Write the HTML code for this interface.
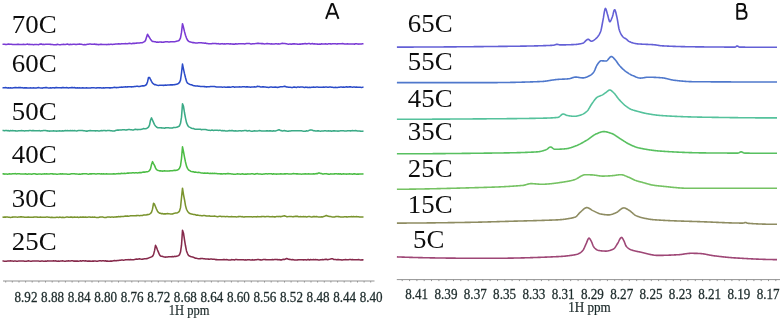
<!DOCTYPE html><html><head><meta charset="utf-8"><style>html,body{margin:0;padding:0;background:#fff;}svg{display:block;}</style></head><body>
<svg width="784" height="322" viewBox="0 0 784 322">
<defs><filter id="bl" x="-5%" y="-5%" width="110%" height="110%"><feGaussianBlur stdDeviation="0.45"/></filter><filter id="tb" x="-5%" y="-5%" width="110%" height="110%"><feGaussianBlur stdDeviation="0.3"/></filter></defs>
<rect width="784" height="322" fill="#fff"/>
<g filter="url(#tb)">
<text transform="translate(11.8 32.7) scale(1.025 1)" font-family="Liberation Serif, serif" font-size="26.2" fill="#111">70C</text>
<text transform="translate(11.8 72.2) scale(1.025 1)" font-family="Liberation Serif, serif" font-size="26.2" fill="#111">60C</text>
<text transform="translate(11.8 120.3) scale(1.025 1)" font-family="Liberation Serif, serif" font-size="26.2" fill="#111">50C</text>
<text transform="translate(11.8 162.6) scale(1.025 1)" font-family="Liberation Serif, serif" font-size="26.2" fill="#111">40C</text>
<text transform="translate(11.8 206.5) scale(1.025 1)" font-family="Liberation Serif, serif" font-size="26.2" fill="#111">30C</text>
<text transform="translate(11.8 250.0) scale(1.025 1)" font-family="Liberation Serif, serif" font-size="26.2" fill="#111">25C</text>
<text transform="translate(407.8 32.2) scale(1.025 1)" font-family="Liberation Serif, serif" font-size="26.2" fill="#111">65C</text>
<text transform="translate(407.8 69.8) scale(1.025 1)" font-family="Liberation Serif, serif" font-size="26.2" fill="#111">55C</text>
<text transform="translate(407.8 106.8) scale(1.025 1)" font-family="Liberation Serif, serif" font-size="26.2" fill="#111">45C</text>
<text transform="translate(407.8 140.4) scale(1.025 1)" font-family="Liberation Serif, serif" font-size="26.2" fill="#111">35C</text>
<text transform="translate(407.8 177.2) scale(1.025 1)" font-family="Liberation Serif, serif" font-size="26.2" fill="#111">25C</text>
<text transform="translate(407.8 213.2) scale(1.025 1)" font-family="Liberation Serif, serif" font-size="26.2" fill="#111">15C</text>
<text transform="translate(413.0 247.7) scale(1.025 1)" font-family="Liberation Serif, serif" font-size="26.2" fill="#111">5C</text>
<path d="M326.0 18.9 L331.7 3.9 L332.9 3.9 L338.5 18.9 M328.6 13.7 H336.1" fill="none" stroke="#111" stroke-width="1.95" stroke-linejoin="round"/>
<path d="M737.25 3.95 V18.75 H742.6 C745.3 18.75 746.6 17.1 746.6 14.75 C746.6 12.4 745.0 10.8 742.4 10.8 H737.25 M737.25 3.95 H741.8 C744.0 3.95 745.1 5.4 745.1 7.35 C745.1 9.3 743.9 10.8 741.8 10.8" fill="none" stroke="#111" stroke-width="1.95" stroke-linejoin="round"/>
</g>
<g filter="url(#bl)">
<path d="M2.5 44.22 L3.5 44.30 L4.5 44.26 L5.5 44.36 L6.5 44.42 L7.5 44.16 L8.5 44.01 L9.5 44.35 L10.5 44.23 L11.5 44.16 L12.5 44.50 L13.5 44.41 L14.5 44.55 L15.5 44.44 L16.5 44.46 L17.5 44.23 L18.5 44.36 L19.5 44.54 L20.5 44.45 L21.5 44.52 L22.5 44.52 L23.5 44.22 L24.5 44.41 L25.5 44.42 L26.5 44.29 L27.5 44.08 L28.5 44.40 L29.5 44.36 L30.5 44.46 L31.5 44.59 L32.5 44.58 L33.5 44.67 L34.5 44.46 L35.5 44.55 L36.5 44.42 L37.5 44.60 L38.5 44.66 L39.5 44.30 L40.5 44.14 L41.5 44.10 L42.5 44.46 L43.5 44.37 L44.5 44.42 L45.5 44.29 L46.5 44.32 L47.5 44.28 L48.5 44.24 L49.5 44.33 L50.5 44.38 L51.5 44.57 L52.5 44.55 L53.5 44.66 L54.5 44.68 L55.5 44.76 L56.5 44.64 L57.5 44.32 L58.5 44.52 L59.5 44.66 L60.5 44.71 L61.5 44.56 L62.5 44.56 L63.5 44.31 L64.5 44.49 L65.5 44.46 L66.5 44.29 L67.5 44.10 L68.5 44.40 L69.5 44.62 L70.5 44.28 L71.5 44.46 L72.5 44.36 L73.5 44.18 L74.5 44.16 L75.5 44.39 L76.5 44.55 L77.5 44.22 L78.5 44.34 L79.5 44.11 L80.5 44.34 L81.5 44.26 L82.5 44.49 L83.5 44.66 L84.5 44.50 L85.5 44.67 L86.5 44.41 L87.5 44.17 L88.5 44.30 L89.5 44.09 L90.5 44.06 L91.5 44.16 L92.5 44.30 L93.5 44.15 L94.5 44.02 L95.5 44.36 L96.5 44.26 L97.5 44.53 L98.5 44.63 L99.5 44.42 L100.5 44.36 L101.5 44.36 L102.5 44.42 L103.5 44.43 L104.5 44.41 L105.5 44.43 L106.5 44.61 L107.5 44.47 L108.5 44.37 L109.5 44.46 L110.5 44.27 L111.5 44.20 L112.5 44.48 L113.5 44.35 L114.5 44.28 L115.5 43.95 L116.5 43.96 L117.5 44.02 L118.5 43.75 L119.5 43.89 L120.5 43.94 L121.5 43.65 L122.5 43.76 L123.5 43.72 L124.5 43.77 L125.5 43.62 L126.5 43.71 L127.5 43.75 L128.5 43.40 L129.5 43.22 L130.5 43.42 L131.5 43.65 L132.5 43.38 L133.5 43.33 L134.5 43.36 L135.5 43.21 L136.5 43.13 L137.5 43.03 L138.5 42.98 L139.5 43.02 L140.5 42.83 L141.5 42.68 L142.5 42.67 L143.5 42.07 L144.5 41.63 L145.5 40.51 L146.5 37.16 L147.5 34.21 L148.5 36.06 L149.5 37.52 L150.5 39.22 L151.5 40.58 L152.5 41.40 L153.5 41.52 L154.5 41.72 L155.5 41.83 L156.5 42.15 L157.5 42.11 L158.5 42.30 L159.5 42.04 L160.5 41.99 L161.5 42.11 L162.5 42.27 L163.5 42.12 L164.5 41.92 L165.5 41.74 L166.5 41.85 L167.5 41.73 L168.5 41.96 L169.5 42.08 L170.5 41.79 L171.5 41.66 L172.5 41.84 L173.5 41.80 L174.5 41.81 L175.5 41.54 L176.5 41.23 L177.5 41.00 L178.5 40.85 L179.5 39.90 L180.5 37.92 L181.5 32.39 L182.5 23.68 L183.5 27.31 L184.5 31.66 L185.5 35.24 L186.5 38.11 L187.5 40.10 L188.5 41.14 L189.5 41.81 L190.5 41.95 L191.5 42.36 L192.5 42.62 L193.5 42.46 L194.5 42.69 L195.5 42.90 L196.5 42.95 L197.5 42.94 L198.5 42.84 L199.5 42.85 L200.5 42.83 L201.5 42.76 L202.5 43.02 L203.5 43.02 L204.5 43.30 L205.5 43.09 L206.5 43.43 L207.5 43.52 L208.5 43.69 L209.5 43.78 L210.5 43.83 L211.5 43.72 L212.5 43.39 L213.5 43.60 L214.5 43.44 L215.5 43.43 L216.5 43.62 L217.5 43.66 L218.5 43.64 L219.5 43.90 L220.5 43.88 L221.5 43.75 L222.5 43.65 L223.5 43.91 L224.5 43.85 L225.5 43.97 L226.5 43.82 L227.5 43.67 L228.5 43.77 L229.5 43.96 L230.5 43.74 L231.5 43.94 L232.5 44.11 L233.5 44.14 L234.5 44.16 L235.5 43.77 L236.5 43.89 L237.5 44.06 L238.5 43.74 L239.5 43.70 L240.5 43.67 L241.5 43.79 L242.5 43.79 L243.5 43.82 L244.5 43.99 L245.5 43.68 L246.5 43.55 L247.5 43.52 L248.5 43.51 L249.5 43.47 L250.5 43.90 L251.5 44.05 L252.5 43.73 L253.5 43.77 L254.5 43.67 L255.5 43.57 L256.5 43.44 L257.5 43.34 L258.5 43.39 L259.5 43.54 L260.5 43.55 L261.5 43.62 L262.5 43.55 L263.5 43.73 L264.5 43.91 L265.5 43.83 L266.5 43.64 L267.5 43.60 L268.5 43.67 L269.5 43.83 L270.5 43.99 L271.5 43.87 L272.5 44.02 L273.5 44.01 L274.5 43.90 L275.5 43.82 L276.5 43.83 L277.5 43.94 L278.5 43.83 L279.5 43.90 L280.5 43.76 L281.5 43.48 L282.5 43.31 L283.5 43.43 L284.5 43.42 L285.5 43.61 L286.5 43.70 L287.5 43.97 L288.5 44.14 L289.5 43.94 L290.5 44.11 L291.5 44.14 L292.5 43.89 L293.5 43.87 L294.5 43.69 L295.5 43.94 L296.5 44.00 L297.5 44.14 L298.5 44.16 L299.5 44.11 L300.5 44.12 L301.5 44.04 L302.5 43.76 L303.5 43.87 L304.5 43.63 L305.5 43.59 L306.5 43.88 L307.5 43.66 L308.5 43.57 L309.5 43.53 L310.5 43.90 L311.5 43.74 L312.5 43.58 L313.5 43.91 L314.5 43.71 L315.5 43.97 L316.5 44.02 L317.5 44.13 L318.5 44.24 L319.5 44.11 L320.5 44.15 L321.5 43.79 L322.5 43.98 L323.5 43.94 L324.5 44.03 L325.5 43.76 L326.5 43.95 L327.5 44.14 L328.5 43.80 L329.5 43.76 L330.5 43.86 L331.5 44.04 L332.5 43.84 L333.5 43.71 L334.5 43.68 L335.5 43.84 L336.5 44.00 L337.5 43.89 L338.5 43.83 L339.5 43.81 L340.5 43.78 L341.5 43.80 L342.5 43.64 L343.5 43.77 L344.5 44.07 L345.5 43.94 L346.5 44.04 L347.5 43.80 L348.5 43.94 L349.5 44.05 L350.5 44.06 L351.5 43.99 L352.5 43.93 L353.5 43.99 L354.5 44.14 L355.5 43.84 L356.5 43.67 L357.5 43.91 L358.5 44.11 L359.5 44.01 L360.5 43.93 L361.5 44.02 L362.5 43.80 L363.5 43.73" fill="none" stroke="#7a3ad4" stroke-width="1.55" stroke-linejoin="round"/>
<path d="M2.5 87.65 L3.5 87.77 L4.5 87.69 L5.5 87.61 L6.5 87.80 L7.5 88.03 L8.5 87.81 L9.5 87.91 L10.5 87.81 L11.5 87.98 L12.5 87.93 L13.5 87.75 L14.5 87.63 L15.5 87.48 L16.5 87.63 L17.5 87.65 L18.5 87.56 L19.5 87.61 L20.5 87.61 L21.5 87.84 L22.5 87.64 L23.5 87.97 L24.5 87.87 L25.5 87.88 L26.5 87.82 L27.5 87.98 L28.5 88.05 L29.5 87.95 L30.5 87.87 L31.5 87.94 L32.5 88.05 L33.5 87.87 L34.5 87.95 L35.5 88.10 L36.5 87.93 L37.5 87.73 L38.5 87.63 L39.5 87.82 L40.5 87.90 L41.5 88.08 L42.5 88.11 L43.5 87.83 L44.5 87.66 L45.5 87.61 L46.5 87.54 L47.5 87.77 L48.5 87.96 L49.5 88.08 L50.5 87.82 L51.5 87.99 L52.5 87.80 L53.5 87.76 L54.5 87.89 L55.5 87.64 L56.5 87.51 L57.5 87.82 L58.5 87.70 L59.5 87.68 L60.5 87.78 L61.5 87.87 L62.5 87.59 L63.5 87.61 L64.5 87.67 L65.5 87.73 L66.5 87.62 L67.5 87.75 L68.5 88.00 L69.5 87.84 L70.5 87.84 L71.5 87.63 L72.5 87.60 L73.5 87.78 L74.5 87.59 L75.5 87.89 L76.5 88.04 L77.5 87.72 L78.5 87.98 L79.5 87.82 L80.5 87.94 L81.5 88.00 L82.5 87.79 L83.5 87.88 L84.5 87.91 L85.5 88.01 L86.5 87.78 L87.5 87.91 L88.5 88.08 L89.5 88.02 L90.5 87.93 L91.5 87.67 L92.5 87.72 L93.5 87.68 L94.5 87.85 L95.5 87.91 L96.5 87.88 L97.5 87.68 L98.5 87.81 L99.5 87.86 L100.5 87.66 L101.5 87.92 L102.5 87.93 L103.5 87.67 L104.5 87.94 L105.5 87.69 L106.5 87.65 L107.5 87.83 L108.5 87.85 L109.5 87.85 L110.5 87.89 L111.5 87.81 L112.5 87.68 L113.5 87.49 L114.5 87.32 L115.5 87.53 L116.5 87.62 L117.5 87.54 L118.5 87.56 L119.5 87.35 L120.5 87.17 L121.5 87.11 L122.5 87.30 L123.5 86.95 L124.5 86.97 L125.5 86.84 L126.5 87.02 L127.5 86.88 L128.5 86.78 L129.5 86.74 L130.5 86.77 L131.5 86.88 L132.5 86.71 L133.5 86.84 L134.5 86.52 L135.5 86.42 L136.5 86.25 L137.5 86.15 L138.5 86.40 L139.5 86.46 L140.5 86.16 L141.5 85.95 L142.5 85.87 L143.5 85.87 L144.5 85.74 L145.5 85.32 L146.5 84.37 L147.5 81.95 L148.5 77.53 L149.5 77.44 L150.5 79.49 L151.5 81.36 L152.5 82.97 L153.5 83.90 L154.5 84.63 L155.5 84.64 L156.5 85.05 L157.5 85.30 L158.5 85.46 L159.5 85.26 L160.5 85.23 L161.5 85.22 L162.5 85.23 L163.5 85.39 L164.5 85.31 L165.5 85.05 L166.5 85.19 L167.5 85.06 L168.5 85.04 L169.5 85.08 L170.5 84.71 L171.5 84.88 L172.5 84.87 L173.5 84.73 L174.5 84.62 L175.5 84.47 L176.5 84.18 L177.5 84.02 L178.5 83.34 L179.5 82.45 L180.5 80.12 L181.5 73.01 L182.5 64.07 L183.5 69.07 L184.5 73.67 L185.5 77.77 L186.5 81.28 L187.5 83.03 L188.5 83.70 L189.5 84.30 L190.5 84.64 L191.5 84.82 L192.5 85.21 L193.5 85.67 L194.5 85.66 L195.5 85.98 L196.5 86.09 L197.5 85.90 L198.5 86.20 L199.5 86.26 L200.5 86.48 L201.5 86.52 L202.5 86.58 L203.5 86.43 L204.5 86.62 L205.5 86.81 L206.5 86.89 L207.5 86.74 L208.5 86.84 L209.5 86.77 L210.5 86.56 L211.5 86.44 L212.5 86.41 L213.5 86.47 L214.5 86.50 L215.5 86.70 L216.5 86.91 L217.5 86.95 L218.5 86.92 L219.5 87.04 L220.5 86.94 L221.5 86.98 L222.5 87.17 L223.5 87.08 L224.5 86.93 L225.5 87.21 L226.5 87.27 L227.5 87.13 L228.5 87.06 L229.5 87.11 L230.5 87.17 L231.5 87.02 L232.5 86.84 L233.5 86.85 L234.5 87.15 L235.5 86.98 L236.5 87.06 L237.5 86.96 L238.5 86.92 L239.5 86.88 L240.5 86.98 L241.5 86.91 L242.5 86.80 L243.5 86.79 L244.5 86.82 L245.5 86.99 L246.5 86.86 L247.5 86.77 L248.5 86.94 L249.5 87.00 L250.5 87.18 L251.5 86.93 L252.5 86.98 L253.5 86.98 L254.5 86.77 L255.5 87.08 L256.5 86.73 L257.5 86.30 L258.5 86.42 L259.5 86.60 L260.5 86.94 L261.5 86.97 L262.5 86.87 L263.5 86.79 L264.5 87.09 L265.5 87.02 L266.5 87.24 L267.5 87.19 L268.5 87.40 L269.5 87.19 L270.5 87.06 L271.5 87.00 L272.5 87.24 L273.5 87.27 L274.5 87.14 L275.5 86.95 L276.5 87.15 L277.5 87.39 L278.5 87.32 L279.5 86.98 L280.5 86.81 L281.5 86.73 L282.5 86.68 L283.5 86.48 L284.5 86.22 L285.5 86.51 L286.5 87.02 L287.5 86.95 L288.5 87.29 L289.5 87.22 L290.5 87.34 L291.5 87.47 L292.5 87.54 L293.5 87.13 L294.5 87.06 L295.5 87.17 L296.5 87.40 L297.5 87.09 L298.5 87.03 L299.5 87.29 L300.5 87.04 L301.5 87.06 L302.5 87.04 L303.5 87.21 L304.5 87.41 L305.5 87.14 L306.5 87.29 L307.5 87.36 L308.5 87.44 L309.5 87.34 L310.5 87.48 L311.5 87.27 L312.5 87.19 L313.5 87.06 L314.5 87.26 L315.5 87.22 L316.5 87.09 L317.5 86.98 L318.5 87.20 L319.5 87.25 L320.5 87.33 L321.5 87.20 L322.5 87.19 L323.5 87.02 L324.5 87.21 L325.5 86.97 L326.5 87.06 L327.5 87.26 L328.5 87.32 L329.5 87.05 L330.5 86.99 L331.5 87.27 L332.5 87.30 L333.5 87.44 L334.5 87.50 L335.5 87.32 L336.5 87.46 L337.5 87.44 L338.5 87.24 L339.5 87.15 L340.5 86.96 L341.5 87.03 L342.5 87.34 L343.5 87.07 L344.5 87.17 L345.5 86.99 L346.5 86.88 L347.5 87.11 L348.5 87.03 L349.5 86.89 L350.5 86.87 L351.5 87.10 L352.5 87.19 L353.5 86.95 L354.5 86.94 L355.5 87.30 L356.5 87.11 L357.5 87.18 L358.5 87.15 L359.5 87.31 L360.5 87.31 L361.5 87.40 L362.5 87.31 L363.5 87.10" fill="none" stroke="#2c4cc8" stroke-width="1.55" stroke-linejoin="round"/>
<path d="M2.5 130.59 L3.5 130.46 L4.5 130.77 L5.5 130.56 L6.5 130.42 L7.5 130.82 L8.5 130.63 L9.5 130.89 L10.5 130.61 L11.5 130.66 L12.5 130.57 L13.5 130.82 L14.5 130.84 L15.5 130.87 L16.5 130.94 L17.5 131.03 L18.5 130.81 L19.5 130.83 L20.5 130.76 L21.5 130.56 L22.5 130.82 L23.5 130.83 L24.5 130.95 L25.5 130.70 L26.5 130.74 L27.5 130.73 L28.5 130.85 L29.5 130.59 L30.5 130.59 L31.5 130.66 L32.5 130.49 L33.5 130.64 L34.5 130.81 L35.5 130.74 L36.5 130.82 L37.5 130.84 L38.5 130.65 L39.5 130.62 L40.5 130.93 L41.5 130.76 L42.5 130.72 L43.5 130.52 L44.5 130.49 L45.5 130.45 L46.5 130.81 L47.5 130.89 L48.5 131.01 L49.5 131.12 L50.5 130.99 L51.5 131.08 L52.5 130.93 L53.5 130.80 L54.5 131.00 L55.5 131.07 L56.5 131.13 L57.5 130.93 L58.5 130.97 L59.5 130.81 L60.5 131.03 L61.5 131.10 L62.5 130.82 L63.5 131.00 L64.5 130.71 L65.5 130.53 L66.5 130.75 L67.5 130.64 L68.5 130.70 L69.5 130.79 L70.5 130.54 L71.5 130.76 L72.5 130.64 L73.5 130.66 L74.5 130.62 L75.5 130.80 L76.5 130.90 L77.5 130.71 L78.5 130.53 L79.5 130.54 L80.5 130.59 L81.5 130.46 L82.5 130.43 L83.5 130.72 L84.5 130.83 L85.5 131.02 L86.5 131.12 L87.5 131.12 L88.5 130.87 L89.5 130.63 L90.5 130.59 L91.5 130.65 L92.5 130.71 L93.5 130.74 L94.5 130.67 L95.5 130.88 L96.5 130.70 L97.5 130.70 L98.5 130.91 L99.5 130.98 L100.5 130.76 L101.5 130.62 L102.5 130.83 L103.5 130.54 L104.5 130.45 L105.5 130.61 L106.5 130.69 L107.5 130.54 L108.5 130.41 L109.5 130.42 L110.5 130.71 L111.5 130.70 L112.5 130.93 L113.5 130.90 L114.5 130.95 L115.5 130.47 L116.5 130.28 L117.5 130.07 L118.5 130.14 L119.5 130.10 L120.5 129.90 L121.5 130.02 L122.5 129.83 L123.5 129.81 L124.5 129.73 L125.5 129.96 L126.5 129.86 L127.5 129.72 L128.5 129.52 L129.5 129.60 L130.5 129.71 L131.5 129.78 L132.5 129.91 L133.5 129.90 L134.5 129.59 L135.5 129.36 L136.5 129.54 L137.5 129.61 L138.5 129.49 L139.5 129.56 L140.5 129.40 L141.5 129.13 L142.5 128.88 L143.5 128.60 L144.5 128.69 L145.5 128.74 L146.5 128.58 L147.5 127.96 L148.5 127.11 L149.5 125.21 L150.5 120.27 L151.5 117.90 L152.5 120.20 L153.5 122.36 L154.5 124.59 L155.5 126.01 L156.5 126.99 L157.5 127.66 L158.5 127.80 L159.5 127.82 L160.5 127.82 L161.5 127.87 L162.5 128.06 L163.5 127.98 L164.5 128.18 L165.5 127.86 L166.5 127.78 L167.5 127.84 L168.5 127.80 L169.5 127.98 L170.5 128.04 L171.5 128.10 L172.5 127.93 L173.5 127.50 L174.5 127.50 L175.5 127.43 L176.5 127.28 L177.5 126.92 L178.5 126.61 L179.5 125.82 L180.5 123.27 L181.5 117.18 L182.5 103.76 L183.5 106.28 L184.5 112.75 L185.5 118.05 L186.5 122.67 L187.5 124.99 L188.5 126.60 L189.5 127.17 L190.5 127.68 L191.5 128.27 L192.5 128.40 L193.5 128.53 L194.5 129.01 L195.5 129.32 L196.5 129.21 L197.5 129.24 L198.5 129.24 L199.5 129.21 L200.5 129.29 L201.5 129.74 L202.5 129.55 L203.5 129.57 L204.5 129.59 L205.5 129.58 L206.5 129.83 L207.5 130.10 L208.5 130.30 L209.5 130.32 L210.5 130.44 L211.5 130.12 L212.5 130.11 L213.5 130.47 L214.5 130.23 L215.5 130.22 L216.5 130.35 L217.5 130.32 L218.5 130.47 L219.5 130.31 L220.5 130.35 L221.5 130.75 L222.5 130.56 L223.5 130.85 L224.5 130.63 L225.5 130.94 L226.5 130.94 L227.5 130.93 L228.5 130.68 L229.5 130.51 L230.5 130.79 L231.5 130.64 L232.5 130.58 L233.5 130.87 L234.5 131.05 L235.5 130.73 L236.5 131.03 L237.5 130.97 L238.5 130.86 L239.5 130.67 L240.5 130.72 L241.5 131.04 L242.5 130.85 L243.5 130.68 L244.5 130.60 L245.5 130.55 L246.5 130.64 L247.5 130.96 L248.5 130.71 L249.5 130.64 L250.5 130.98 L251.5 131.18 L252.5 131.27 L253.5 130.95 L254.5 130.84 L255.5 131.08 L256.5 130.97 L257.5 131.03 L258.5 130.86 L259.5 130.63 L260.5 130.68 L261.5 130.90 L262.5 131.03 L263.5 130.99 L264.5 130.91 L265.5 130.91 L266.5 130.86 L267.5 130.88 L268.5 131.04 L269.5 130.80 L270.5 130.87 L271.5 131.08 L272.5 131.13 L273.5 130.81 L274.5 131.02 L275.5 131.03 L276.5 130.62 L277.5 130.31 L278.5 129.86 L279.5 129.75 L280.5 130.51 L281.5 130.64 L282.5 130.93 L283.5 130.70 L284.5 130.53 L285.5 130.88 L286.5 131.02 L287.5 131.19 L288.5 131.12 L289.5 131.01 L290.5 131.07 L291.5 130.77 L292.5 130.84 L293.5 130.83 L294.5 130.68 L295.5 130.83 L296.5 130.76 L297.5 130.82 L298.5 130.78 L299.5 130.74 L300.5 130.73 L301.5 130.85 L302.5 131.09 L303.5 131.18 L304.5 131.19 L305.5 131.16 L306.5 130.85 L307.5 131.01 L308.5 130.65 L309.5 130.21 L310.5 129.90 L311.5 130.06 L312.5 130.35 L313.5 130.68 L314.5 130.65 L315.5 130.98 L316.5 130.90 L317.5 130.87 L318.5 130.88 L319.5 131.06 L320.5 131.21 L321.5 131.06 L322.5 130.94 L323.5 130.97 L324.5 130.71 L325.5 130.76 L326.5 131.00 L327.5 131.08 L328.5 130.76 L329.5 131.00 L330.5 130.89 L331.5 131.13 L332.5 130.94 L333.5 130.77 L334.5 130.86 L335.5 131.07 L336.5 130.94 L337.5 131.10 L338.5 131.10 L339.5 130.93 L340.5 130.81 L341.5 130.85 L342.5 130.82 L343.5 130.79 L344.5 130.92 L345.5 131.09 L346.5 131.04 L347.5 130.79 L348.5 130.70 L349.5 130.73 L350.5 130.87 L351.5 130.70 L352.5 130.59 L353.5 130.65 L354.5 130.67 L355.5 130.54 L356.5 130.74 L357.5 131.03 L358.5 130.98 L359.5 131.06 L360.5 131.14 L361.5 131.19 L362.5 131.25 L363.5 131.04" fill="none" stroke="#3aaa86" stroke-width="1.55" stroke-linejoin="round"/>
<path d="M2.5 174.09 L3.5 173.85 L4.5 174.12 L5.5 174.00 L6.5 173.98 L7.5 174.19 L8.5 173.99 L9.5 173.84 L10.5 174.08 L11.5 174.09 L12.5 173.84 L13.5 173.68 L14.5 173.76 L15.5 173.63 L16.5 173.98 L17.5 173.83 L18.5 173.80 L19.5 173.84 L20.5 173.93 L21.5 173.93 L22.5 174.03 L23.5 174.09 L24.5 174.01 L25.5 173.80 L26.5 174.14 L27.5 174.16 L28.5 173.87 L29.5 173.91 L30.5 174.08 L31.5 174.28 L32.5 173.92 L33.5 173.71 L34.5 173.85 L35.5 173.88 L36.5 174.14 L37.5 174.23 L38.5 174.03 L39.5 173.97 L40.5 174.03 L41.5 174.20 L42.5 173.95 L43.5 173.92 L44.5 173.75 L45.5 173.94 L46.5 173.73 L47.5 174.08 L48.5 174.05 L49.5 174.06 L50.5 173.82 L51.5 173.77 L52.5 173.87 L53.5 174.11 L54.5 174.07 L55.5 173.93 L56.5 174.20 L57.5 174.18 L58.5 174.10 L59.5 173.90 L60.5 173.85 L61.5 174.12 L62.5 173.87 L63.5 173.95 L64.5 174.03 L65.5 173.94 L66.5 174.10 L67.5 174.25 L68.5 174.30 L69.5 174.27 L70.5 173.98 L71.5 173.77 L72.5 173.85 L73.5 173.83 L74.5 173.76 L75.5 174.06 L76.5 173.89 L77.5 174.10 L78.5 174.27 L79.5 173.94 L80.5 174.17 L81.5 174.03 L82.5 173.87 L83.5 173.77 L84.5 173.65 L85.5 173.82 L86.5 173.85 L87.5 174.10 L88.5 174.21 L89.5 173.88 L90.5 173.89 L91.5 173.88 L92.5 173.77 L93.5 173.76 L94.5 173.76 L95.5 173.97 L96.5 173.90 L97.5 173.75 L98.5 173.73 L99.5 173.83 L100.5 173.94 L101.5 173.84 L102.5 174.01 L103.5 173.86 L104.5 174.01 L105.5 174.05 L106.5 173.86 L107.5 174.04 L108.5 173.96 L109.5 173.99 L110.5 174.04 L111.5 174.07 L112.5 173.97 L113.5 173.68 L114.5 173.87 L115.5 173.97 L116.5 173.80 L117.5 173.73 L118.5 173.51 L119.5 173.69 L120.5 173.64 L121.5 173.35 L122.5 173.47 L123.5 173.59 L124.5 173.29 L125.5 173.45 L126.5 173.26 L127.5 173.00 L128.5 173.12 L129.5 172.97 L130.5 173.07 L131.5 173.03 L132.5 172.75 L133.5 172.80 L134.5 172.96 L135.5 172.84 L136.5 172.78 L137.5 172.90 L138.5 172.72 L139.5 172.63 L140.5 172.58 L141.5 172.63 L142.5 172.29 L143.5 172.00 L144.5 172.13 L145.5 172.00 L146.5 171.69 L147.5 171.67 L148.5 171.37 L149.5 170.48 L150.5 168.90 L151.5 164.55 L152.5 161.64 L153.5 163.60 L154.5 165.39 L155.5 167.88 L156.5 169.53 L157.5 170.17 L158.5 170.58 L159.5 170.86 L160.5 170.85 L161.5 171.08 L162.5 171.13 L163.5 171.06 L164.5 170.88 L165.5 171.00 L166.5 170.93 L167.5 171.10 L168.5 170.90 L169.5 170.89 L170.5 170.76 L171.5 170.78 L172.5 170.83 L173.5 170.58 L174.5 170.35 L175.5 170.39 L176.5 170.18 L177.5 170.03 L178.5 169.39 L179.5 168.21 L180.5 165.75 L181.5 158.52 L182.5 146.81 L183.5 151.60 L184.5 157.05 L185.5 162.01 L186.5 166.17 L187.5 168.40 L188.5 169.93 L189.5 170.40 L190.5 171.18 L191.5 171.44 L192.5 171.64 L193.5 171.73 L194.5 172.20 L195.5 172.12 L196.5 172.31 L197.5 172.43 L198.5 172.37 L199.5 172.40 L200.5 172.83 L201.5 172.99 L202.5 173.07 L203.5 173.23 L204.5 172.95 L205.5 173.14 L206.5 173.29 L207.5 173.14 L208.5 173.20 L209.5 173.50 L210.5 173.35 L211.5 173.51 L212.5 173.32 L213.5 173.49 L214.5 173.39 L215.5 173.49 L216.5 173.48 L217.5 173.75 L218.5 173.84 L219.5 173.78 L220.5 173.87 L221.5 173.80 L222.5 173.97 L223.5 173.79 L224.5 173.84 L225.5 173.89 L226.5 173.82 L227.5 173.62 L228.5 173.59 L229.5 173.82 L230.5 173.72 L231.5 173.95 L232.5 173.94 L233.5 174.17 L234.5 174.24 L235.5 174.21 L236.5 174.03 L237.5 173.77 L238.5 173.90 L239.5 174.06 L240.5 174.23 L241.5 173.95 L242.5 173.79 L243.5 174.12 L244.5 174.17 L245.5 174.07 L246.5 174.14 L247.5 173.88 L248.5 173.95 L249.5 174.05 L250.5 174.07 L251.5 173.85 L252.5 173.74 L253.5 173.92 L254.5 174.14 L255.5 173.88 L256.5 173.69 L257.5 173.63 L258.5 173.95 L259.5 173.91 L260.5 173.93 L261.5 174.20 L262.5 174.15 L263.5 173.95 L264.5 174.07 L265.5 173.78 L266.5 173.77 L267.5 173.98 L268.5 173.82 L269.5 173.67 L270.5 173.84 L271.5 173.83 L272.5 174.14 L273.5 173.87 L274.5 174.08 L275.5 173.98 L276.5 174.14 L277.5 174.03 L278.5 174.10 L279.5 173.96 L280.5 173.83 L281.5 173.89 L282.5 174.09 L283.5 173.96 L284.5 173.84 L285.5 173.87 L286.5 173.73 L287.5 173.77 L288.5 173.91 L289.5 173.97 L290.5 174.03 L291.5 173.90 L292.5 173.71 L293.5 173.61 L294.5 173.72 L295.5 173.70 L296.5 173.88 L297.5 173.82 L298.5 174.03 L299.5 174.06 L300.5 174.10 L301.5 174.16 L302.5 174.08 L303.5 174.00 L304.5 173.89 L305.5 173.72 L306.5 174.00 L307.5 173.98 L308.5 173.78 L309.5 174.08 L310.5 174.06 L311.5 174.07 L312.5 173.97 L313.5 173.75 L314.5 174.06 L315.5 173.75 L316.5 173.62 L317.5 173.69 L318.5 173.00 L319.5 173.05 L320.5 173.46 L321.5 173.59 L322.5 173.98 L323.5 173.92 L324.5 173.70 L325.5 173.82 L326.5 173.64 L327.5 173.91 L328.5 174.13 L329.5 174.26 L330.5 173.89 L331.5 174.03 L332.5 173.91 L333.5 173.93 L334.5 173.86 L335.5 173.83 L336.5 173.72 L337.5 173.92 L338.5 173.75 L339.5 174.10 L340.5 173.82 L341.5 174.14 L342.5 173.91 L343.5 173.74 L344.5 173.99 L345.5 174.01 L346.5 174.13 L347.5 174.07 L348.5 174.10 L349.5 173.84 L350.5 174.00 L351.5 174.00 L352.5 174.23 L353.5 173.87 L354.5 173.71 L355.5 173.94 L356.5 174.18 L357.5 174.05 L358.5 174.13 L359.5 174.09 L360.5 173.99 L361.5 173.98 L362.5 174.04 L363.5 173.78" fill="none" stroke="#4cbc44" stroke-width="1.55" stroke-linejoin="round"/>
<path d="M2.5 217.10 L3.5 217.27 L4.5 217.11 L5.5 217.14 L6.5 217.05 L7.5 217.05 L8.5 217.20 L9.5 217.32 L10.5 217.49 L11.5 217.33 L12.5 217.12 L13.5 217.07 L14.5 216.92 L15.5 216.93 L16.5 217.10 L17.5 217.21 L18.5 217.07 L19.5 216.98 L20.5 216.89 L21.5 216.88 L22.5 217.04 L23.5 217.00 L24.5 217.29 L25.5 217.28 L26.5 217.16 L27.5 217.14 L28.5 216.94 L29.5 217.18 L30.5 217.32 L31.5 217.19 L32.5 217.31 L33.5 217.14 L34.5 217.03 L35.5 216.98 L36.5 216.93 L37.5 217.12 L38.5 217.23 L39.5 217.33 L40.5 217.06 L41.5 217.26 L42.5 217.22 L43.5 217.15 L44.5 217.17 L45.5 217.15 L46.5 217.02 L47.5 217.06 L48.5 217.20 L49.5 217.31 L50.5 217.46 L51.5 217.17 L52.5 217.38 L53.5 217.44 L54.5 217.42 L55.5 217.55 L56.5 217.19 L57.5 217.33 L58.5 217.46 L59.5 217.14 L60.5 217.21 L61.5 217.43 L62.5 217.21 L63.5 217.38 L64.5 217.49 L65.5 217.31 L66.5 217.07 L67.5 216.99 L68.5 217.26 L69.5 217.19 L70.5 217.10 L71.5 217.12 L72.5 217.37 L73.5 217.16 L74.5 216.93 L75.5 217.29 L76.5 217.15 L77.5 217.11 L78.5 217.39 L79.5 217.18 L80.5 216.98 L81.5 217.28 L82.5 217.11 L83.5 217.01 L84.5 217.32 L85.5 217.12 L86.5 217.36 L87.5 217.19 L88.5 217.09 L89.5 217.00 L90.5 217.12 L91.5 217.18 L92.5 217.14 L93.5 217.17 L94.5 217.08 L95.5 217.30 L96.5 217.46 L97.5 217.45 L98.5 217.48 L99.5 217.12 L100.5 217.03 L101.5 216.96 L102.5 216.90 L103.5 217.28 L104.5 217.43 L105.5 217.52 L106.5 217.38 L107.5 217.09 L108.5 217.10 L109.5 216.92 L110.5 217.25 L111.5 217.10 L112.5 217.00 L113.5 217.23 L114.5 216.93 L115.5 217.11 L116.5 216.86 L117.5 216.88 L118.5 216.58 L119.5 216.79 L120.5 216.61 L121.5 216.46 L122.5 216.50 L123.5 216.46 L124.5 216.23 L125.5 216.03 L126.5 216.14 L127.5 215.90 L128.5 216.18 L129.5 216.03 L130.5 215.85 L131.5 215.82 L132.5 215.67 L133.5 215.67 L134.5 215.76 L135.5 215.72 L136.5 215.63 L137.5 215.54 L138.5 215.57 L139.5 215.70 L140.5 215.55 L141.5 215.59 L142.5 215.41 L143.5 215.08 L144.5 214.89 L145.5 215.06 L146.5 214.87 L147.5 214.62 L148.5 214.41 L149.5 214.24 L150.5 213.50 L151.5 212.21 L152.5 209.13 L153.5 203.28 L154.5 204.18 L155.5 206.70 L156.5 209.10 L157.5 211.28 L158.5 212.46 L159.5 213.19 L160.5 213.31 L161.5 213.79 L162.5 213.61 L163.5 213.89 L164.5 213.69 L165.5 213.88 L166.5 213.71 L167.5 213.53 L168.5 213.66 L169.5 213.85 L170.5 213.93 L171.5 213.95 L172.5 213.97 L173.5 213.46 L174.5 213.29 L175.5 212.99 L176.5 213.06 L177.5 212.70 L178.5 212.18 L179.5 210.90 L180.5 207.64 L181.5 197.77 L182.5 188.20 L183.5 194.60 L184.5 199.74 L185.5 205.59 L186.5 209.26 L187.5 211.18 L188.5 212.62 L189.5 213.21 L190.5 213.82 L191.5 213.91 L192.5 214.14 L193.5 214.59 L194.5 214.55 L195.5 214.84 L196.5 215.24 L197.5 215.13 L198.5 215.36 L199.5 215.54 L200.5 215.60 L201.5 215.75 L202.5 215.82 L203.5 215.55 L204.5 215.54 L205.5 215.74 L206.5 216.09 L207.5 215.92 L208.5 216.04 L209.5 215.89 L210.5 216.19 L211.5 216.16 L212.5 216.21 L213.5 216.32 L214.5 216.13 L215.5 216.35 L216.5 216.51 L217.5 216.65 L218.5 216.44 L219.5 216.33 L220.5 216.26 L221.5 216.61 L222.5 216.57 L223.5 216.54 L224.5 216.58 L225.5 216.70 L226.5 216.57 L227.5 216.52 L228.5 216.72 L229.5 216.83 L230.5 216.64 L231.5 216.45 L232.5 216.78 L233.5 216.85 L234.5 216.82 L235.5 216.72 L236.5 216.95 L237.5 216.80 L238.5 216.62 L239.5 216.47 L240.5 216.52 L241.5 216.67 L242.5 216.63 L243.5 216.90 L244.5 216.89 L245.5 216.78 L246.5 216.83 L247.5 216.83 L248.5 216.84 L249.5 216.78 L250.5 216.76 L251.5 216.74 L252.5 216.90 L253.5 216.66 L254.5 216.84 L255.5 216.68 L256.5 216.88 L257.5 216.59 L258.5 216.65 L259.5 216.66 L260.5 216.80 L261.5 216.62 L262.5 216.55 L263.5 216.46 L264.5 216.62 L265.5 216.71 L266.5 216.47 L267.5 216.44 L268.5 216.43 L269.5 216.81 L270.5 216.74 L271.5 216.76 L272.5 216.64 L273.5 216.76 L274.5 216.89 L275.5 216.88 L276.5 216.54 L277.5 216.58 L278.5 216.61 L279.5 216.39 L280.5 216.62 L281.5 216.43 L282.5 216.18 L283.5 215.95 L284.5 215.79 L285.5 216.15 L286.5 216.61 L287.5 216.66 L288.5 216.60 L289.5 216.43 L290.5 216.60 L291.5 216.59 L292.5 216.67 L293.5 216.62 L294.5 216.42 L295.5 216.34 L296.5 216.36 L297.5 216.34 L298.5 216.71 L299.5 216.76 L300.5 216.62 L301.5 216.78 L302.5 216.82 L303.5 216.56 L304.5 216.77 L305.5 216.62 L306.5 216.92 L307.5 216.65 L308.5 216.58 L309.5 216.53 L310.5 216.81 L311.5 216.93 L312.5 216.87 L313.5 216.62 L314.5 216.64 L315.5 216.78 L316.5 216.53 L317.5 216.83 L318.5 216.94 L319.5 217.03 L320.5 216.95 L321.5 216.85 L322.5 216.95 L323.5 216.59 L324.5 216.31 L325.5 215.83 L326.5 215.47 L327.5 216.06 L328.5 216.19 L329.5 216.57 L330.5 216.58 L331.5 216.83 L332.5 216.90 L333.5 216.90 L334.5 216.98 L335.5 216.63 L336.5 216.56 L337.5 216.58 L338.5 216.62 L339.5 216.76 L340.5 216.94 L341.5 216.96 L342.5 217.06 L343.5 217.00 L344.5 216.80 L345.5 216.77 L346.5 216.88 L347.5 216.97 L348.5 216.79 L349.5 216.69 L350.5 216.78 L351.5 216.62 L352.5 216.87 L353.5 216.56 L354.5 216.73 L355.5 216.73 L356.5 216.58 L357.5 216.70 L358.5 216.71 L359.5 216.96 L360.5 217.04 L361.5 216.94 L362.5 217.03 L363.5 217.08" fill="none" stroke="#7a942e" stroke-width="1.55" stroke-linejoin="round"/>
<path d="M2.5 260.83 L3.5 261.08 L4.5 261.20 L5.5 261.35 L6.5 261.30 L7.5 261.10 L8.5 260.90 L9.5 261.03 L10.5 260.87 L11.5 261.06 L12.5 261.07 L13.5 261.19 L14.5 261.02 L15.5 260.91 L16.5 261.16 L17.5 261.16 L18.5 261.02 L19.5 261.04 L20.5 260.98 L21.5 261.06 L22.5 261.04 L23.5 260.91 L24.5 261.19 L25.5 261.29 L26.5 261.27 L27.5 261.02 L28.5 260.86 L29.5 261.04 L30.5 261.18 L31.5 261.16 L32.5 260.94 L33.5 261.08 L34.5 261.05 L35.5 260.96 L36.5 261.02 L37.5 260.98 L38.5 261.06 L39.5 261.16 L40.5 261.32 L41.5 260.96 L42.5 261.01 L43.5 261.23 L44.5 261.19 L45.5 261.13 L46.5 261.24 L47.5 260.88 L48.5 261.09 L49.5 261.10 L50.5 261.09 L51.5 260.95 L52.5 261.03 L53.5 260.83 L54.5 260.92 L55.5 260.84 L56.5 261.13 L57.5 261.22 L58.5 261.09 L59.5 261.17 L60.5 261.02 L61.5 261.02 L62.5 260.84 L63.5 261.10 L64.5 261.18 L65.5 261.22 L66.5 260.90 L67.5 261.10 L68.5 260.81 L69.5 260.93 L70.5 260.96 L71.5 260.75 L72.5 260.83 L73.5 261.11 L74.5 261.11 L75.5 260.96 L76.5 261.13 L77.5 260.99 L78.5 261.19 L79.5 261.04 L80.5 260.81 L81.5 261.13 L82.5 260.85 L83.5 260.80 L84.5 261.03 L85.5 260.82 L86.5 260.93 L87.5 261.14 L88.5 261.11 L89.5 260.97 L90.5 261.11 L91.5 261.21 L92.5 261.14 L93.5 261.13 L94.5 260.97 L95.5 260.93 L96.5 261.21 L97.5 261.33 L98.5 260.91 L99.5 260.80 L100.5 260.75 L101.5 261.02 L102.5 260.85 L103.5 260.75 L104.5 261.00 L105.5 260.83 L106.5 261.14 L107.5 261.04 L108.5 261.21 L109.5 261.26 L110.5 260.97 L111.5 261.12 L112.5 260.97 L113.5 260.74 L114.5 260.49 L115.5 260.66 L116.5 260.64 L117.5 260.45 L118.5 260.59 L119.5 260.30 L120.5 260.24 L121.5 259.99 L122.5 259.96 L123.5 260.17 L124.5 260.04 L125.5 259.78 L126.5 259.67 L127.5 259.79 L128.5 259.64 L129.5 259.85 L130.5 259.51 L131.5 259.71 L132.5 259.67 L133.5 259.72 L134.5 259.48 L135.5 259.19 L136.5 259.07 L137.5 259.20 L138.5 258.94 L139.5 258.82 L140.5 259.05 L141.5 259.15 L142.5 259.13 L143.5 259.06 L144.5 258.83 L145.5 258.80 L146.5 258.63 L147.5 258.40 L148.5 258.11 L149.5 257.64 L150.5 257.27 L151.5 256.89 L152.5 256.28 L153.5 254.58 L154.5 250.90 L155.5 245.33 L156.5 247.27 L157.5 249.96 L158.5 252.38 L159.5 254.74 L160.5 255.99 L161.5 256.29 L162.5 256.39 L163.5 256.79 L164.5 257.05 L165.5 257.12 L166.5 256.97 L167.5 257.00 L168.5 256.75 L169.5 256.68 L170.5 256.71 L171.5 256.85 L172.5 256.55 L173.5 256.77 L174.5 256.35 L175.5 256.55 L176.5 256.19 L177.5 256.10 L178.5 255.66 L179.5 254.71 L180.5 252.05 L181.5 245.20 L182.5 230.27 L183.5 233.20 L184.5 239.82 L185.5 245.77 L186.5 250.95 L187.5 253.52 L188.5 255.34 L189.5 256.08 L190.5 256.46 L191.5 256.86 L192.5 257.05 L193.5 257.36 L194.5 257.81 L195.5 258.24 L196.5 258.34 L197.5 258.54 L198.5 258.67 L199.5 258.72 L200.5 258.63 L201.5 258.55 L202.5 258.50 L203.5 258.70 L204.5 258.67 L205.5 258.95 L206.5 258.92 L207.5 259.06 L208.5 259.13 L209.5 259.22 L210.5 259.05 L211.5 259.03 L212.5 259.26 L213.5 259.15 L214.5 259.35 L215.5 259.61 L216.5 259.46 L217.5 259.70 L218.5 259.66 L219.5 259.82 L220.5 259.70 L221.5 259.78 L222.5 259.79 L223.5 259.56 L224.5 259.61 L225.5 259.66 L226.5 259.64 L227.5 259.73 L228.5 259.90 L229.5 259.93 L230.5 259.96 L231.5 259.64 L232.5 259.77 L233.5 259.80 L234.5 259.97 L235.5 259.59 L236.5 259.49 L237.5 259.84 L238.5 259.72 L239.5 259.82 L240.5 259.81 L241.5 259.72 L242.5 259.69 L243.5 259.74 L244.5 259.97 L245.5 259.86 L246.5 259.94 L247.5 259.73 L248.5 259.83 L249.5 259.83 L250.5 259.90 L251.5 260.00 L252.5 259.65 L253.5 259.92 L254.5 259.88 L255.5 259.68 L256.5 259.69 L257.5 259.51 L258.5 259.48 L259.5 259.77 L260.5 259.86 L261.5 259.98 L262.5 259.68 L263.5 259.51 L264.5 259.56 L265.5 259.64 L266.5 259.79 L267.5 259.66 L268.5 259.81 L269.5 259.81 L270.5 259.66 L271.5 259.84 L272.5 259.57 L273.5 259.69 L274.5 259.55 L275.5 259.40 L276.5 259.55 L277.5 259.64 L278.5 259.72 L279.5 259.64 L280.5 259.87 L281.5 259.89 L282.5 259.56 L283.5 259.26 L284.5 259.47 L285.5 259.05 L286.5 258.54 L287.5 258.79 L288.5 259.35 L289.5 259.36 L290.5 259.46 L291.5 259.67 L292.5 259.61 L293.5 259.74 L294.5 259.95 L295.5 259.98 L296.5 259.92 L297.5 259.88 L298.5 259.71 L299.5 259.79 L300.5 259.83 L301.5 259.83 L302.5 259.77 L303.5 259.88 L304.5 259.66 L305.5 259.80 L306.5 260.01 L307.5 259.64 L308.5 259.56 L309.5 259.89 L310.5 259.60 L311.5 259.83 L312.5 259.82 L313.5 259.56 L314.5 259.71 L315.5 259.48 L316.5 259.78 L317.5 259.65 L318.5 259.90 L319.5 260.01 L320.5 259.68 L321.5 259.65 L322.5 259.51 L323.5 259.73 L324.5 259.51 L325.5 259.38 L326.5 259.32 L327.5 259.64 L328.5 259.45 L329.5 259.30 L330.5 259.09 L331.5 258.73 L332.5 258.70 L333.5 259.39 L334.5 259.47 L335.5 259.57 L336.5 259.81 L337.5 259.63 L338.5 259.51 L339.5 259.78 L340.5 259.66 L341.5 259.89 L342.5 259.97 L343.5 259.79 L344.5 259.68 L345.5 259.51 L346.5 259.81 L347.5 259.74 L348.5 259.66 L349.5 259.54 L350.5 259.50 L351.5 259.81 L352.5 259.59 L353.5 259.69 L354.5 259.78 L355.5 259.77 L356.5 259.76 L357.5 259.70 L358.5 259.57 L359.5 259.82 L360.5 259.98 L361.5 259.89 L362.5 259.69 L363.5 259.92" fill="none" stroke="#862a4c" stroke-width="1.55" stroke-linejoin="round"/>
<path d="M396.9 47.10 L397.4 47.10 L397.9 47.10 L398.4 47.10 L398.9 47.10 L399.4 47.10 L399.9 47.10 L400.4 47.10 L400.9 47.10 L401.4 47.10 L401.9 47.10 L402.4 47.10 L402.9 47.10 L403.4 47.10 L403.9 47.10 L404.4 47.09 L404.9 47.09 L405.4 47.09 L405.9 47.09 L406.4 47.09 L406.9 47.09 L407.4 47.09 L407.9 47.09 L408.4 47.09 L408.9 47.09 L409.4 47.09 L409.9 47.09 L410.4 47.08 L410.9 47.08 L411.4 47.08 L411.9 47.08 L412.4 47.08 L412.9 47.08 L413.4 47.08 L413.9 47.07 L414.4 47.07 L414.9 47.07 L415.4 47.07 L415.9 47.07 L416.4 47.07 L416.9 47.07 L417.4 47.06 L417.9 47.06 L418.4 47.06 L418.9 47.06 L419.4 47.06 L419.9 47.05 L420.4 47.05 L420.9 47.05 L421.4 47.05 L421.9 47.05 L422.4 47.04 L422.9 47.04 L423.4 47.04 L423.9 47.04 L424.4 47.04 L424.9 47.03 L425.4 47.03 L425.9 47.03 L426.4 47.03 L426.9 47.02 L427.4 47.02 L427.9 47.02 L428.4 47.02 L428.9 47.01 L429.4 47.01 L429.9 47.01 L430.4 47.01 L430.9 47.00 L431.4 47.00 L431.9 47.00 L432.4 47.00 L432.9 46.99 L433.4 46.99 L433.9 46.99 L434.4 46.98 L434.9 46.98 L435.4 46.98 L435.9 46.98 L436.4 46.97 L436.9 46.97 L437.4 46.97 L437.9 46.96 L438.4 46.96 L438.9 46.96 L439.4 46.95 L439.9 46.95 L440.4 46.95 L440.9 46.94 L441.4 46.94 L441.9 46.94 L442.4 46.93 L442.9 46.93 L443.4 46.93 L443.9 46.92 L444.4 46.92 L444.9 46.92 L445.4 46.91 L445.9 46.91 L446.4 46.91 L446.9 46.90 L447.4 46.90 L447.9 46.89 L448.4 46.89 L448.9 46.89 L449.4 46.88 L449.9 46.88 L450.4 46.88 L450.9 46.87 L451.4 46.87 L451.9 46.86 L452.4 46.86 L452.9 46.86 L453.4 46.85 L453.9 46.85 L454.4 46.84 L454.9 46.84 L455.4 46.84 L455.9 46.83 L456.4 46.83 L456.9 46.82 L457.4 46.82 L457.9 46.82 L458.4 46.81 L458.9 46.81 L459.4 46.80 L459.9 46.80 L460.4 46.80 L460.9 46.79 L461.4 46.79 L461.9 46.78 L462.4 46.78 L462.9 46.77 L463.4 46.77 L463.9 46.76 L464.4 46.76 L464.9 46.76 L465.4 46.75 L465.9 46.75 L466.4 46.74 L466.9 46.74 L467.4 46.73 L467.9 46.73 L468.4 46.72 L468.9 46.72 L469.4 46.72 L469.9 46.71 L470.4 46.71 L470.9 46.70 L471.4 46.70 L471.9 46.69 L472.4 46.69 L472.9 46.68 L473.4 46.68 L473.9 46.67 L474.4 46.67 L474.9 46.66 L475.4 46.66 L475.9 46.65 L476.4 46.65 L476.9 46.64 L477.4 46.64 L477.9 46.63 L478.4 46.63 L478.9 46.62 L479.4 46.62 L479.9 46.61 L480.4 46.61 L480.9 46.60 L481.4 46.60 L481.9 46.59 L482.4 46.59 L482.9 46.58 L483.4 46.58 L483.9 46.57 L484.4 46.57 L484.9 46.56 L485.4 46.56 L485.9 46.55 L486.4 46.55 L486.9 46.54 L487.4 46.54 L487.9 46.53 L488.4 46.53 L488.9 46.52 L489.4 46.52 L489.9 46.51 L490.4 46.51 L490.9 46.50 L491.4 46.50 L491.9 46.49 L492.4 46.49 L492.9 46.48 L493.4 46.48 L493.9 46.47 L494.4 46.47 L494.9 46.46 L495.4 46.46 L495.9 46.45 L496.4 46.44 L496.9 46.44 L497.4 46.43 L497.9 46.43 L498.4 46.42 L498.9 46.42 L499.4 46.41 L499.9 46.41 L500.4 46.40 L500.9 46.40 L501.4 46.39 L501.9 46.39 L502.4 46.38 L502.9 46.38 L503.4 46.37 L503.9 46.37 L504.4 46.36 L504.9 46.35 L505.4 46.35 L505.9 46.34 L506.4 46.34 L506.9 46.33 L507.4 46.33 L507.9 46.32 L508.4 46.32 L508.9 46.31 L509.4 46.31 L509.9 46.30 L510.4 46.30 L510.9 46.29 L511.4 46.28 L511.9 46.28 L512.4 46.27 L512.9 46.27 L513.4 46.26 L513.9 46.25 L514.4 46.25 L514.9 46.24 L515.4 46.24 L515.9 46.23 L516.4 46.22 L516.9 46.22 L517.4 46.21 L517.9 46.20 L518.4 46.20 L518.9 46.19 L519.4 46.18 L519.9 46.18 L520.4 46.17 L520.9 46.16 L521.4 46.16 L521.9 46.15 L522.4 46.14 L522.9 46.13 L523.4 46.13 L523.9 46.12 L524.4 46.11 L524.9 46.10 L525.4 46.09 L525.9 46.08 L526.4 46.08 L526.9 46.07 L527.4 46.06 L527.9 46.05 L528.4 46.04 L528.9 46.03 L529.4 46.02 L529.9 46.01 L530.4 46.00 L530.9 45.99 L531.4 45.98 L531.9 45.97 L532.4 45.96 L532.9 45.95 L533.4 45.94 L533.9 45.93 L534.4 45.91 L534.9 45.90 L535.4 45.89 L535.9 45.88 L536.4 45.87 L536.9 45.85 L537.4 45.84 L537.9 45.83 L538.4 45.81 L538.9 45.80 L539.4 45.79 L539.9 45.77 L540.4 45.76 L540.9 45.74 L541.4 45.73 L541.9 45.71 L542.4 45.70 L542.9 45.68 L543.4 45.67 L543.9 45.65 L544.4 45.63 L544.9 45.62 L545.4 45.60 L545.9 45.58 L546.4 45.57 L546.9 45.55 L547.4 45.53 L547.9 45.51 L548.4 45.49 L548.9 45.47 L549.4 45.46 L549.9 45.44 L550.4 45.42 L550.9 45.40 L551.4 45.37 L551.9 45.33 L552.4 45.29 L552.9 45.24 L553.4 45.18 L553.9 45.11 L554.4 45.02 L554.9 44.87 L555.4 44.68 L555.9 44.51 L556.4 44.37 L556.9 44.30 L557.4 44.33 L557.9 44.43 L558.4 44.57 L558.9 44.72 L559.4 44.84 L559.9 44.90 L560.4 44.90 L560.9 44.90 L561.4 44.90 L561.9 44.89 L562.4 44.89 L562.9 44.88 L563.4 44.88 L563.9 44.87 L564.4 44.86 L564.9 44.85 L565.4 44.84 L565.9 44.83 L566.4 44.82 L566.9 44.81 L567.4 44.80 L567.9 44.78 L568.4 44.77 L568.9 44.75 L569.4 44.74 L569.9 44.72 L570.4 44.70 L570.9 44.68 L571.4 44.66 L571.9 44.64 L572.4 44.62 L572.9 44.60 L573.4 44.58 L573.9 44.55 L574.4 44.53 L574.9 44.50 L575.4 44.48 L575.9 44.44 L576.4 44.40 L576.9 44.35 L577.4 44.29 L577.9 44.23 L578.4 44.16 L578.9 44.08 L579.4 43.99 L579.9 43.89 L580.4 43.79 L580.9 43.68 L581.4 43.57 L581.9 43.44 L582.4 43.31 L582.9 43.17 L583.4 42.93 L583.9 42.58 L584.4 42.15 L584.9 41.67 L585.4 41.16 L585.9 40.66 L586.4 40.20 L586.9 39.80 L587.4 39.50 L587.9 39.33 L588.4 39.32 L588.9 39.55 L589.4 39.93 L589.9 40.39 L590.4 40.81 L590.9 41.11 L591.4 41.20 L591.9 41.14 L592.4 41.00 L592.9 40.79 L593.4 40.52 L593.9 40.19 L594.4 39.82 L594.9 39.42 L595.4 38.99 L595.9 38.54 L596.4 38.08 L596.9 37.61 L597.4 37.09 L597.9 36.50 L598.4 35.83 L598.9 35.07 L599.4 34.19 L599.9 33.20 L600.4 32.09 L600.9 30.69 L601.4 28.59 L601.9 26.01 L602.4 23.25 L602.9 20.59 L603.4 17.89 L603.9 14.70 L604.4 11.63 L604.9 9.31 L605.4 8.40 L605.9 8.96 L606.4 10.37 L606.9 12.20 L607.4 14.05 L607.9 15.74 L608.4 17.82 L608.9 19.87 L609.4 21.36 L609.9 21.79 L610.4 21.37 L610.9 20.48 L611.4 19.31 L611.9 18.01 L612.4 16.74 L612.9 14.96 L613.4 12.82 L613.9 10.88 L614.4 9.72 L614.9 9.81 L615.4 10.96 L615.9 12.79 L616.4 14.95 L616.9 17.10 L617.4 19.58 L617.9 22.64 L618.4 25.77 L618.9 28.48 L619.4 30.28 L619.9 31.60 L620.4 32.79 L620.9 33.83 L621.4 34.75 L621.9 35.55 L622.4 36.23 L622.9 36.80 L623.4 37.27 L623.9 37.65 L624.4 37.97 L624.9 38.25 L625.4 38.53 L625.9 38.83 L626.4 39.18 L626.9 39.60 L627.4 40.07 L627.9 40.55 L628.4 41.00 L628.9 41.38 L629.4 41.65 L629.9 41.86 L630.4 42.07 L630.9 42.27 L631.4 42.45 L631.9 42.63 L632.4 42.79 L632.9 42.94 L633.4 43.09 L633.9 43.22 L634.4 43.34 L634.9 43.44 L635.4 43.54 L635.9 43.63 L636.4 43.71 L636.9 43.78 L637.4 43.83 L637.9 43.88 L638.4 43.93 L638.9 43.97 L639.4 44.00 L639.9 44.04 L640.4 44.07 L640.9 44.10 L641.4 44.13 L641.9 44.16 L642.4 44.18 L642.9 44.21 L643.4 44.23 L643.9 44.25 L644.4 44.28 L644.9 44.30 L645.4 44.32 L645.9 44.33 L646.4 44.35 L646.9 44.37 L647.4 44.39 L647.9 44.41 L648.4 44.43 L648.9 44.45 L649.4 44.47 L649.9 44.49 L650.4 44.52 L650.9 44.54 L651.4 44.57 L651.9 44.60 L652.4 44.63 L652.9 44.66 L653.4 44.69 L653.9 44.73 L654.4 44.78 L654.9 44.84 L655.4 44.91 L655.9 44.98 L656.4 45.06 L656.9 45.14 L657.4 45.22 L657.9 45.31 L658.4 45.39 L658.9 45.47 L659.4 45.54 L659.9 45.61 L660.4 45.67 L660.9 45.73 L661.4 45.77 L661.9 45.81 L662.4 45.83 L662.9 45.86 L663.4 45.89 L663.9 45.92 L664.4 45.94 L664.9 45.97 L665.4 46.00 L665.9 46.02 L666.4 46.05 L666.9 46.07 L667.4 46.09 L667.9 46.12 L668.4 46.14 L668.9 46.16 L669.4 46.19 L669.9 46.21 L670.4 46.23 L670.9 46.25 L671.4 46.27 L671.9 46.29 L672.4 46.31 L672.9 46.33 L673.4 46.34 L673.9 46.36 L674.4 46.38 L674.9 46.40 L675.4 46.41 L675.9 46.43 L676.4 46.45 L676.9 46.46 L677.4 46.48 L677.9 46.49 L678.4 46.51 L678.9 46.52 L679.4 46.54 L679.9 46.55 L680.4 46.56 L680.9 46.58 L681.4 46.59 L681.9 46.60 L682.4 46.61 L682.9 46.62 L683.4 46.64 L683.9 46.65 L684.4 46.66 L684.9 46.67 L685.4 46.68 L685.9 46.69 L686.4 46.70 L686.9 46.71 L687.4 46.71 L687.9 46.72 L688.4 46.73 L688.9 46.74 L689.4 46.75 L689.9 46.76 L690.4 46.76 L690.9 46.77 L691.4 46.78 L691.9 46.78 L692.4 46.79 L692.9 46.80 L693.4 46.80 L693.9 46.81 L694.4 46.81 L694.9 46.82 L695.4 46.83 L695.9 46.83 L696.4 46.84 L696.9 46.84 L697.4 46.85 L697.9 46.86 L698.4 46.86 L698.9 46.87 L699.4 46.87 L699.9 46.88 L700.4 46.88 L700.9 46.89 L701.4 46.89 L701.9 46.90 L702.4 46.90 L702.9 46.91 L703.4 46.92 L703.9 46.92 L704.4 46.93 L704.9 46.93 L705.4 46.94 L705.9 46.94 L706.4 46.95 L706.9 46.95 L707.4 46.96 L707.9 46.96 L708.4 46.96 L708.9 46.97 L709.4 46.97 L709.9 46.98 L710.4 46.98 L710.9 46.99 L711.4 46.99 L711.9 47.00 L712.4 47.00 L712.9 47.00 L713.4 47.01 L713.9 47.01 L714.4 47.02 L714.9 47.02 L715.4 47.02 L715.9 47.03 L716.4 47.03 L716.9 47.03 L717.4 47.04 L717.9 47.04 L718.4 47.04 L718.9 47.05 L719.4 47.05 L719.9 47.05 L720.4 47.06 L720.9 47.06 L721.4 47.06 L721.9 47.06 L722.4 47.07 L722.9 47.07 L723.4 47.07 L723.9 47.07 L724.4 47.08 L724.9 47.08 L725.4 47.08 L725.9 47.08 L726.4 47.08 L726.9 47.09 L727.4 47.09 L727.9 47.09 L728.4 47.09 L728.9 47.09 L729.4 47.09 L729.9 47.09 L730.4 47.10 L730.9 47.10 L731.4 47.10 L731.9 47.10 L732.4 47.10 L732.9 47.10 L733.4 47.10 L733.9 47.10 L734.4 47.10 L734.9 47.10 L735.4 47.00 L735.9 46.66 L736.4 46.26 L736.9 45.96 L737.4 45.93 L737.9 46.16 L738.4 46.53 L738.9 46.89 L739.4 47.09 L739.9 47.11 L740.4 47.11 L740.9 47.12 L741.4 47.13 L741.9 47.13 L742.4 47.14 L742.9 47.15 L743.4 47.15 L743.9 47.16 L744.4 47.16 L744.9 47.17 L745.4 47.18 L745.9 47.18 L746.4 47.19 L746.9 47.19 L747.4 47.20 L747.9 47.20 L748.4 47.21 L748.9 47.21 L749.4 47.21 L749.9 47.22 L750.4 47.22 L750.9 47.23 L751.4 47.23 L751.9 47.23 L752.4 47.24 L752.9 47.24 L753.4 47.24 L753.9 47.25 L754.4 47.25 L754.9 47.25 L755.4 47.26 L755.9 47.26 L756.4 47.26 L756.9 47.26 L757.4 47.27 L757.9 47.27 L758.4 47.27 L758.9 47.27 L759.4 47.27 L759.9 47.28 L760.4 47.28 L760.9 47.28 L761.4 47.28 L761.9 47.28 L762.4 47.28 L762.9 47.29 L763.4 47.29 L763.9 47.29 L764.4 47.29 L764.9 47.29 L765.4 47.29 L765.9 47.29 L766.4 47.29 L766.9 47.29 L767.4 47.29 L767.9 47.30 L768.4 47.30 L768.9 47.30 L769.4 47.30 L769.9 47.30 L770.4 47.30 L770.9 47.30 L771.4 47.30 L771.9 47.30 L772.4 47.30 L772.9 47.30 L773.4 47.30 L773.9 47.30 L774.4 47.30 L774.9 47.30 L775.4 47.30 L775.9 47.30 L776.4 47.30 L776.9 47.30 L777.0 47.30" fill="none" stroke="#6460d6" stroke-width="1.6" stroke-linejoin="round"/>
<path d="M396.9 82.60 L397.4 82.60 L397.9 82.60 L398.4 82.60 L398.9 82.60 L399.4 82.60 L399.9 82.60 L400.4 82.60 L400.9 82.60 L401.4 82.60 L401.9 82.60 L402.4 82.60 L402.9 82.60 L403.4 82.60 L403.9 82.60 L404.4 82.60 L404.9 82.60 L405.4 82.60 L405.9 82.60 L406.4 82.60 L406.9 82.60 L407.4 82.60 L407.9 82.60 L408.4 82.60 L408.9 82.60 L409.4 82.60 L409.9 82.60 L410.4 82.60 L410.9 82.60 L411.4 82.60 L411.9 82.60 L412.4 82.60 L412.9 82.60 L413.4 82.60 L413.9 82.60 L414.4 82.60 L414.9 82.60 L415.4 82.60 L415.9 82.60 L416.4 82.60 L416.9 82.60 L417.4 82.60 L417.9 82.60 L418.4 82.60 L418.9 82.60 L419.4 82.60 L419.9 82.60 L420.4 82.60 L420.9 82.60 L421.4 82.60 L421.9 82.60 L422.4 82.60 L422.9 82.60 L423.4 82.60 L423.9 82.60 L424.4 82.60 L424.9 82.60 L425.4 82.60 L425.9 82.60 L426.4 82.60 L426.9 82.60 L427.4 82.60 L427.9 82.60 L428.4 82.60 L428.9 82.60 L429.4 82.60 L429.9 82.60 L430.4 82.60 L430.9 82.60 L431.4 82.60 L431.9 82.60 L432.4 82.60 L432.9 82.60 L433.4 82.60 L433.9 82.60 L434.4 82.60 L434.9 82.60 L435.4 82.60 L435.9 82.60 L436.4 82.60 L436.9 82.60 L437.4 82.60 L437.9 82.60 L438.4 82.60 L438.9 82.60 L439.4 82.60 L439.9 82.60 L440.4 82.60 L440.9 82.60 L441.4 82.60 L441.9 82.60 L442.4 82.60 L442.9 82.60 L443.4 82.60 L443.9 82.60 L444.4 82.60 L444.9 82.60 L445.4 82.60 L445.9 82.60 L446.4 82.60 L446.9 82.60 L447.4 82.60 L447.9 82.60 L448.4 82.60 L448.9 82.60 L449.4 82.60 L449.9 82.60 L450.4 82.60 L450.9 82.60 L451.4 82.60 L451.9 82.60 L452.4 82.60 L452.9 82.60 L453.4 82.60 L453.9 82.60 L454.4 82.60 L454.9 82.60 L455.4 82.60 L455.9 82.60 L456.4 82.60 L456.9 82.60 L457.4 82.60 L457.9 82.60 L458.4 82.60 L458.9 82.60 L459.4 82.60 L459.9 82.60 L460.4 82.60 L460.9 82.60 L461.4 82.60 L461.9 82.60 L462.4 82.60 L462.9 82.60 L463.4 82.60 L463.9 82.60 L464.4 82.60 L464.9 82.60 L465.4 82.60 L465.9 82.60 L466.4 82.60 L466.9 82.60 L467.4 82.60 L467.9 82.60 L468.4 82.60 L468.9 82.60 L469.4 82.60 L469.9 82.60 L470.4 82.60 L470.9 82.60 L471.4 82.60 L471.9 82.60 L472.4 82.60 L472.9 82.60 L473.4 82.60 L473.9 82.60 L474.4 82.60 L474.9 82.60 L475.4 82.60 L475.9 82.60 L476.4 82.60 L476.9 82.60 L477.4 82.60 L477.9 82.60 L478.4 82.60 L478.9 82.60 L479.4 82.60 L479.9 82.60 L480.4 82.60 L480.9 82.60 L481.4 82.60 L481.9 82.60 L482.4 82.60 L482.9 82.60 L483.4 82.60 L483.9 82.60 L484.4 82.60 L484.9 82.60 L485.4 82.60 L485.9 82.60 L486.4 82.60 L486.9 82.60 L487.4 82.60 L487.9 82.60 L488.4 82.60 L488.9 82.60 L489.4 82.60 L489.9 82.60 L490.4 82.60 L490.9 82.60 L491.4 82.60 L491.9 82.60 L492.4 82.60 L492.9 82.60 L493.4 82.59 L493.9 82.59 L494.4 82.59 L494.9 82.59 L495.4 82.59 L495.9 82.58 L496.4 82.58 L496.9 82.58 L497.4 82.58 L497.9 82.57 L498.4 82.57 L498.9 82.57 L499.4 82.56 L499.9 82.56 L500.4 82.55 L500.9 82.55 L501.4 82.54 L501.9 82.54 L502.4 82.53 L502.9 82.53 L503.4 82.52 L503.9 82.52 L504.4 82.51 L504.9 82.50 L505.4 82.50 L505.9 82.49 L506.4 82.48 L506.9 82.48 L507.4 82.47 L507.9 82.46 L508.4 82.45 L508.9 82.45 L509.4 82.44 L509.9 82.43 L510.4 82.42 L510.9 82.41 L511.4 82.40 L511.9 82.39 L512.4 82.39 L512.9 82.38 L513.4 82.37 L513.9 82.36 L514.4 82.35 L514.9 82.34 L515.4 82.33 L515.9 82.31 L516.4 82.30 L516.9 82.29 L517.4 82.28 L517.9 82.27 L518.4 82.26 L518.9 82.25 L519.4 82.23 L519.9 82.22 L520.4 82.21 L520.9 82.20 L521.4 82.18 L521.9 82.17 L522.4 82.16 L522.9 82.14 L523.4 82.13 L523.9 82.12 L524.4 82.10 L524.9 82.09 L525.4 82.07 L525.9 82.06 L526.4 82.04 L526.9 82.03 L527.4 82.01 L527.9 82.00 L528.4 81.98 L528.9 81.96 L529.4 81.95 L529.9 81.93 L530.4 81.92 L530.9 81.90 L531.4 81.88 L531.9 81.87 L532.4 81.85 L532.9 81.83 L533.4 81.81 L533.9 81.79 L534.4 81.78 L534.9 81.76 L535.4 81.74 L535.9 81.72 L536.4 81.70 L536.9 81.68 L537.4 81.66 L537.9 81.65 L538.4 81.63 L538.9 81.61 L539.4 81.59 L539.9 81.57 L540.4 81.55 L540.9 81.52 L541.4 81.50 L541.9 81.48 L542.4 81.45 L542.9 81.42 L543.4 81.37 L543.9 81.33 L544.4 81.28 L544.9 81.22 L545.4 81.16 L545.9 81.09 L546.4 81.03 L546.9 80.96 L547.4 80.88 L547.9 80.81 L548.4 80.73 L548.9 80.65 L549.4 80.57 L549.9 80.49 L550.4 80.41 L550.9 80.32 L551.4 80.24 L551.9 80.16 L552.4 80.08 L552.9 80.01 L553.4 79.93 L553.9 79.86 L554.4 79.79 L554.9 79.72 L555.4 79.65 L555.9 79.59 L556.4 79.54 L556.9 79.49 L557.4 79.44 L557.9 79.40 L558.4 79.36 L558.9 79.33 L559.4 79.30 L559.9 79.27 L560.4 79.25 L560.9 79.22 L561.4 79.20 L561.9 79.18 L562.4 79.16 L562.9 79.14 L563.4 79.12 L563.9 79.10 L564.4 79.08 L564.9 79.05 L565.4 79.03 L565.9 79.00 L566.4 78.97 L566.9 78.94 L567.4 78.90 L567.9 78.86 L568.4 78.82 L568.9 78.77 L569.4 78.68 L569.9 78.57 L570.4 78.43 L570.9 78.28 L571.4 78.12 L571.9 77.95 L572.4 77.78 L572.9 77.62 L573.4 77.47 L573.9 77.34 L574.4 77.23 L574.9 77.15 L575.4 77.11 L575.9 77.10 L576.4 77.12 L576.9 77.16 L577.4 77.21 L577.9 77.28 L578.4 77.35 L578.9 77.43 L579.4 77.52 L579.9 77.60 L580.4 77.68 L580.9 77.75 L581.4 77.81 L581.9 77.86 L582.4 77.89 L582.9 77.90 L583.4 77.88 L583.9 77.83 L584.4 77.75 L584.9 77.64 L585.4 77.51 L585.9 77.35 L586.4 77.18 L586.9 76.98 L587.4 76.77 L587.9 76.54 L588.4 76.31 L588.9 76.06 L589.4 75.81 L589.9 75.55 L590.4 75.28 L590.9 74.95 L591.4 74.57 L591.9 74.14 L592.4 73.66 L592.9 73.12 L593.4 72.54 L593.9 71.87 L594.4 70.95 L594.9 69.84 L595.4 68.62 L595.9 67.40 L596.4 66.24 L596.9 65.23 L597.4 64.46 L597.9 63.77 L598.4 63.08 L598.9 62.42 L599.4 61.83 L599.9 61.35 L600.4 61.00 L600.9 60.82 L601.4 60.80 L601.9 60.81 L602.4 60.83 L602.9 60.86 L603.4 60.89 L603.9 60.92 L604.4 60.95 L604.9 60.97 L605.4 60.99 L605.9 61.00 L606.4 60.93 L606.9 60.67 L607.4 60.25 L607.9 59.72 L608.4 59.12 L608.9 58.50 L609.4 57.89 L609.9 57.35 L610.4 56.91 L610.9 56.61 L611.4 56.50 L611.9 56.60 L612.4 56.88 L612.9 57.30 L613.4 57.80 L613.9 58.34 L614.4 58.89 L614.9 59.41 L615.4 59.98 L615.9 60.62 L616.4 61.30 L616.9 62.02 L617.4 62.75 L617.9 63.48 L618.4 64.19 L618.9 64.86 L619.4 65.47 L619.9 66.03 L620.4 66.56 L620.9 67.09 L621.4 67.60 L621.9 68.10 L622.4 68.59 L622.9 69.06 L623.4 69.51 L623.9 69.95 L624.4 70.38 L624.9 70.79 L625.4 71.18 L625.9 71.56 L626.4 71.91 L626.9 72.26 L627.4 72.60 L627.9 72.93 L628.4 73.25 L628.9 73.57 L629.4 73.87 L629.9 74.15 L630.4 74.43 L630.9 74.70 L631.4 74.95 L631.9 75.19 L632.4 75.41 L632.9 75.63 L633.4 75.85 L633.9 76.07 L634.4 76.30 L634.9 76.52 L635.4 76.74 L635.9 76.96 L636.4 77.16 L636.9 77.35 L637.4 77.53 L637.9 77.68 L638.4 77.82 L638.9 77.93 L639.4 78.02 L639.9 78.08 L640.4 78.10 L640.9 78.09 L641.4 78.07 L641.9 78.02 L642.4 77.96 L642.9 77.89 L643.4 77.81 L643.9 77.73 L644.4 77.64 L644.9 77.55 L645.4 77.47 L645.9 77.39 L646.4 77.32 L646.9 77.27 L647.4 77.23 L647.9 77.20 L648.4 77.20 L648.9 77.20 L649.4 77.21 L649.9 77.21 L650.4 77.22 L650.9 77.23 L651.4 77.24 L651.9 77.26 L652.4 77.27 L652.9 77.29 L653.4 77.31 L653.9 77.33 L654.4 77.35 L654.9 77.37 L655.4 77.40 L655.9 77.42 L656.4 77.45 L656.9 77.48 L657.4 77.51 L657.9 77.54 L658.4 77.57 L658.9 77.60 L659.4 77.63 L659.9 77.67 L660.4 77.70 L660.9 77.74 L661.4 77.77 L661.9 77.81 L662.4 77.85 L662.9 77.91 L663.4 77.98 L663.9 78.06 L664.4 78.15 L664.9 78.24 L665.4 78.35 L665.9 78.46 L666.4 78.57 L666.9 78.69 L667.4 78.81 L667.9 78.94 L668.4 79.06 L668.9 79.19 L669.4 79.32 L669.9 79.44 L670.4 79.56 L670.9 79.68 L671.4 79.79 L671.9 79.89 L672.4 79.99 L672.9 80.08 L673.4 80.17 L673.9 80.24 L674.4 80.30 L674.9 80.36 L675.4 80.41 L675.9 80.47 L676.4 80.52 L676.9 80.58 L677.4 80.63 L677.9 80.68 L678.4 80.73 L678.9 80.79 L679.4 80.84 L679.9 80.89 L680.4 80.94 L680.9 80.98 L681.4 81.03 L681.9 81.08 L682.4 81.12 L682.9 81.17 L683.4 81.21 L683.9 81.25 L684.4 81.29 L684.9 81.33 L685.4 81.37 L685.9 81.40 L686.4 81.43 L686.9 81.47 L687.4 81.50 L687.9 81.53 L688.4 81.55 L688.9 81.58 L689.4 81.60 L689.9 81.62 L690.4 81.64 L690.9 81.65 L691.4 81.67 L691.9 81.68 L692.4 81.69 L692.9 81.70 L693.4 81.70 L693.9 81.71 L694.4 81.71 L694.9 81.71 L695.4 81.72 L695.9 81.72 L696.4 81.73 L696.9 81.73 L697.4 81.73 L697.9 81.74 L698.4 81.74 L698.9 81.75 L699.4 81.75 L699.9 81.75 L700.4 81.76 L700.9 81.76 L701.4 81.76 L701.9 81.77 L702.4 81.77 L702.9 81.78 L703.4 81.78 L703.9 81.78 L704.4 81.79 L704.9 81.79 L705.4 81.79 L705.9 81.80 L706.4 81.80 L706.9 81.80 L707.4 81.81 L707.9 81.81 L708.4 81.81 L708.9 81.82 L709.4 81.82 L709.9 81.82 L710.4 81.82 L710.9 81.83 L711.4 81.83 L711.9 81.83 L712.4 81.84 L712.9 81.84 L713.4 81.84 L713.9 81.85 L714.4 81.85 L714.9 81.85 L715.4 81.85 L715.9 81.86 L716.4 81.86 L716.9 81.86 L717.4 81.86 L717.9 81.87 L718.4 81.87 L718.9 81.87 L719.4 81.87 L719.9 81.88 L720.4 81.88 L720.9 81.88 L721.4 81.88 L721.9 81.89 L722.4 81.89 L722.9 81.89 L723.4 81.89 L723.9 81.90 L724.4 81.90 L724.9 81.90 L725.4 81.90 L725.9 81.90 L726.4 81.91 L726.9 81.91 L727.4 81.91 L727.9 81.91 L728.4 81.91 L728.9 81.92 L729.4 81.92 L729.9 81.92 L730.4 81.92 L730.9 81.92 L731.4 81.93 L731.9 81.93 L732.4 81.93 L732.9 81.93 L733.4 81.93 L733.9 81.93 L734.4 81.94 L734.9 81.94 L735.4 81.94 L735.9 81.94 L736.4 81.94 L736.9 81.94 L737.4 81.95 L737.9 81.95 L738.4 81.95 L738.9 81.95 L739.4 81.95 L739.9 81.95 L740.4 81.95 L740.9 81.96 L741.4 81.96 L741.9 81.96 L742.4 81.96 L742.9 81.96 L743.4 81.96 L743.9 81.96 L744.4 81.96 L744.9 81.97 L745.4 81.97 L745.9 81.97 L746.4 81.97 L746.9 81.97 L747.4 81.97 L747.9 81.97 L748.4 81.97 L748.9 81.97 L749.4 81.98 L749.9 81.98 L750.4 81.98 L750.9 81.98 L751.4 81.98 L751.9 81.98 L752.4 81.98 L752.9 81.98 L753.4 81.98 L753.9 81.98 L754.4 81.98 L754.9 81.98 L755.4 81.99 L755.9 81.99 L756.4 81.99 L756.9 81.99 L757.4 81.99 L757.9 81.99 L758.4 81.99 L758.9 81.99 L759.4 81.99 L759.9 81.99 L760.4 81.99 L760.9 81.99 L761.4 81.99 L761.9 81.99 L762.4 81.99 L762.9 81.99 L763.4 81.99 L763.9 81.99 L764.4 82.00 L764.9 82.00 L765.4 82.00 L765.9 82.00 L766.4 82.00 L766.9 82.00 L767.4 82.00 L767.9 82.00 L768.4 82.00 L768.9 82.00 L769.4 82.00 L769.9 82.00 L770.4 82.00 L770.9 82.00 L771.4 82.00 L771.9 82.00 L772.4 82.00 L772.9 82.00 L773.4 82.00 L773.9 82.00 L774.4 82.00 L774.9 82.00 L775.4 82.00 L775.9 82.00 L776.4 82.00 L776.9 82.00 L777.0 82.00" fill="none" stroke="#4f78cc" stroke-width="1.6" stroke-linejoin="round"/>
<path d="M396.9 119.30 L397.4 119.30 L397.9 119.30 L398.4 119.30 L398.9 119.30 L399.4 119.30 L399.9 119.29 L400.4 119.29 L400.9 119.29 L401.4 119.29 L401.9 119.29 L402.4 119.29 L402.9 119.29 L403.4 119.29 L403.9 119.28 L404.4 119.28 L404.9 119.28 L405.4 119.28 L405.9 119.28 L406.4 119.28 L406.9 119.28 L407.4 119.27 L407.9 119.27 L408.4 119.27 L408.9 119.27 L409.4 119.27 L409.9 119.27 L410.4 119.27 L410.9 119.26 L411.4 119.26 L411.9 119.26 L412.4 119.26 L412.9 119.26 L413.4 119.26 L413.9 119.25 L414.4 119.25 L414.9 119.25 L415.4 119.25 L415.9 119.25 L416.4 119.24 L416.9 119.24 L417.4 119.24 L417.9 119.24 L418.4 119.24 L418.9 119.23 L419.4 119.23 L419.9 119.23 L420.4 119.23 L420.9 119.23 L421.4 119.22 L421.9 119.22 L422.4 119.22 L422.9 119.22 L423.4 119.22 L423.9 119.21 L424.4 119.21 L424.9 119.21 L425.4 119.21 L425.9 119.21 L426.4 119.20 L426.9 119.20 L427.4 119.20 L427.9 119.20 L428.4 119.19 L428.9 119.19 L429.4 119.19 L429.9 119.19 L430.4 119.18 L430.9 119.18 L431.4 119.18 L431.9 119.18 L432.4 119.17 L432.9 119.17 L433.4 119.17 L433.9 119.17 L434.4 119.16 L434.9 119.16 L435.4 119.16 L435.9 119.16 L436.4 119.15 L436.9 119.15 L437.4 119.15 L437.9 119.15 L438.4 119.14 L438.9 119.14 L439.4 119.14 L439.9 119.13 L440.4 119.13 L440.9 119.13 L441.4 119.13 L441.9 119.12 L442.4 119.12 L442.9 119.12 L443.4 119.11 L443.9 119.11 L444.4 119.11 L444.9 119.11 L445.4 119.10 L445.9 119.10 L446.4 119.10 L446.9 119.09 L447.4 119.09 L447.9 119.09 L448.4 119.09 L448.9 119.08 L449.4 119.08 L449.9 119.08 L450.4 119.07 L450.9 119.07 L451.4 119.07 L451.9 119.06 L452.4 119.06 L452.9 119.06 L453.4 119.05 L453.9 119.05 L454.4 119.05 L454.9 119.04 L455.4 119.04 L455.9 119.04 L456.4 119.04 L456.9 119.03 L457.4 119.03 L457.9 119.03 L458.4 119.02 L458.9 119.02 L459.4 119.02 L459.9 119.01 L460.4 119.01 L460.9 119.01 L461.4 119.00 L461.9 119.00 L462.4 119.00 L462.9 118.99 L463.4 118.99 L463.9 118.99 L464.4 118.98 L464.9 118.98 L465.4 118.98 L465.9 118.97 L466.4 118.97 L466.9 118.97 L467.4 118.96 L467.9 118.96 L468.4 118.95 L468.9 118.95 L469.4 118.95 L469.9 118.94 L470.4 118.94 L470.9 118.94 L471.4 118.93 L471.9 118.93 L472.4 118.93 L472.9 118.92 L473.4 118.92 L473.9 118.92 L474.4 118.91 L474.9 118.91 L475.4 118.91 L475.9 118.90 L476.4 118.90 L476.9 118.90 L477.4 118.89 L477.9 118.89 L478.4 118.88 L478.9 118.88 L479.4 118.88 L479.9 118.87 L480.4 118.87 L480.9 118.87 L481.4 118.86 L481.9 118.86 L482.4 118.86 L482.9 118.85 L483.4 118.85 L483.9 118.84 L484.4 118.84 L484.9 118.84 L485.4 118.83 L485.9 118.83 L486.4 118.83 L486.9 118.82 L487.4 118.82 L487.9 118.81 L488.4 118.81 L488.9 118.81 L489.4 118.80 L489.9 118.80 L490.4 118.80 L490.9 118.79 L491.4 118.79 L491.9 118.79 L492.4 118.78 L492.9 118.78 L493.4 118.77 L493.9 118.77 L494.4 118.77 L494.9 118.76 L495.4 118.76 L495.9 118.76 L496.4 118.75 L496.9 118.75 L497.4 118.75 L497.9 118.74 L498.4 118.74 L498.9 118.73 L499.4 118.73 L499.9 118.73 L500.4 118.72 L500.9 118.72 L501.4 118.72 L501.9 118.71 L502.4 118.71 L502.9 118.70 L503.4 118.70 L503.9 118.70 L504.4 118.69 L504.9 118.69 L505.4 118.68 L505.9 118.68 L506.4 118.68 L506.9 118.67 L507.4 118.67 L507.9 118.66 L508.4 118.66 L508.9 118.65 L509.4 118.65 L509.9 118.65 L510.4 118.64 L510.9 118.64 L511.4 118.63 L511.9 118.63 L512.4 118.62 L512.9 118.62 L513.4 118.61 L513.9 118.61 L514.4 118.60 L514.9 118.60 L515.4 118.59 L515.9 118.59 L516.4 118.58 L516.9 118.58 L517.4 118.57 L517.9 118.57 L518.4 118.56 L518.9 118.56 L519.4 118.55 L519.9 118.55 L520.4 118.54 L520.9 118.54 L521.4 118.53 L521.9 118.52 L522.4 118.52 L522.9 118.51 L523.4 118.50 L523.9 118.50 L524.4 118.49 L524.9 118.49 L525.4 118.48 L525.9 118.47 L526.4 118.47 L526.9 118.46 L527.4 118.45 L527.9 118.44 L528.4 118.44 L528.9 118.43 L529.4 118.42 L529.9 118.42 L530.4 118.41 L530.9 118.40 L531.4 118.39 L531.9 118.38 L532.4 118.38 L532.9 118.37 L533.4 118.36 L533.9 118.35 L534.4 118.34 L534.9 118.33 L535.4 118.33 L535.9 118.32 L536.4 118.31 L536.9 118.30 L537.4 118.29 L537.9 118.28 L538.4 118.27 L538.9 118.26 L539.4 118.25 L539.9 118.24 L540.4 118.23 L540.9 118.23 L541.4 118.22 L541.9 118.21 L542.4 118.19 L542.9 118.18 L543.4 118.17 L543.9 118.16 L544.4 118.15 L544.9 118.14 L545.4 118.12 L545.9 118.11 L546.4 118.09 L546.9 118.08 L547.4 118.06 L547.9 118.04 L548.4 118.02 L548.9 118.00 L549.4 117.98 L549.9 117.96 L550.4 117.94 L550.9 117.91 L551.4 117.89 L551.9 117.86 L552.4 117.83 L552.9 117.80 L553.4 117.77 L553.9 117.74 L554.4 117.70 L554.9 117.66 L555.4 117.63 L555.9 117.59 L556.4 117.55 L556.9 117.50 L557.4 117.46 L557.9 117.41 L558.4 117.31 L558.9 117.06 L559.4 116.70 L559.9 116.26 L560.4 115.78 L560.9 115.30 L561.4 114.84 L561.9 114.46 L562.4 114.17 L562.9 114.01 L563.4 114.02 L563.9 114.13 L564.4 114.31 L564.9 114.53 L565.4 114.78 L565.9 115.02 L566.4 115.23 L566.9 115.38 L567.4 115.48 L567.9 115.57 L568.4 115.67 L568.9 115.76 L569.4 115.85 L569.9 115.93 L570.4 116.00 L570.9 116.07 L571.4 116.13 L571.9 116.19 L572.4 116.23 L572.9 116.26 L573.4 116.29 L573.9 116.30 L574.4 116.30 L574.9 116.27 L575.4 116.23 L575.9 116.17 L576.4 116.10 L576.9 116.01 L577.4 115.91 L577.9 115.79 L578.4 115.67 L578.9 115.54 L579.4 115.41 L579.9 115.27 L580.4 115.13 L580.9 114.98 L581.4 114.80 L581.9 114.60 L582.4 114.37 L582.9 114.12 L583.4 113.84 L583.9 113.54 L584.4 113.22 L584.9 112.88 L585.4 112.51 L585.9 112.13 L586.4 111.72 L586.9 111.30 L587.4 110.80 L587.9 110.18 L588.4 109.47 L588.9 108.68 L589.4 107.85 L589.9 106.99 L590.4 106.12 L590.9 105.28 L591.4 104.48 L591.9 103.74 L592.4 103.05 L592.9 102.34 L593.4 101.62 L593.9 100.91 L594.4 100.21 L594.9 99.54 L595.4 98.92 L595.9 98.35 L596.4 97.86 L596.9 97.44 L597.4 97.11 L597.9 96.83 L598.4 96.59 L598.9 96.37 L599.4 96.17 L599.9 95.99 L600.4 95.80 L600.9 95.61 L601.4 95.39 L601.9 95.16 L602.4 94.89 L602.9 94.58 L603.4 94.25 L603.9 93.90 L604.4 93.53 L604.9 93.17 L605.4 92.81 L605.9 92.47 L606.4 92.12 L606.9 91.72 L607.4 91.30 L607.9 90.89 L608.4 90.52 L608.9 90.23 L609.4 90.05 L609.9 90.00 L610.4 90.11 L610.9 90.34 L611.4 90.68 L611.9 91.09 L612.4 91.55 L612.9 92.04 L613.4 92.52 L613.9 92.99 L614.4 93.51 L614.9 94.09 L615.4 94.72 L615.9 95.39 L616.4 96.08 L616.9 96.77 L617.4 97.45 L617.9 98.11 L618.4 98.74 L618.9 99.31 L619.4 99.86 L619.9 100.41 L620.4 100.95 L620.9 101.48 L621.4 102.01 L621.9 102.52 L622.4 103.02 L622.9 103.50 L623.4 103.97 L623.9 104.42 L624.4 104.85 L624.9 105.26 L625.4 105.65 L625.9 106.04 L626.4 106.41 L626.9 106.78 L627.4 107.14 L627.9 107.48 L628.4 107.82 L628.9 108.14 L629.4 108.44 L629.9 108.73 L630.4 108.99 L630.9 109.24 L631.4 109.46 L631.9 109.66 L632.4 109.84 L632.9 110.02 L633.4 110.18 L633.9 110.33 L634.4 110.47 L634.9 110.61 L635.4 110.75 L635.9 110.88 L636.4 111.02 L636.9 111.16 L637.4 111.29 L637.9 111.43 L638.4 111.57 L638.9 111.71 L639.4 111.85 L639.9 111.99 L640.4 112.12 L640.9 112.25 L641.4 112.39 L641.9 112.52 L642.4 112.64 L642.9 112.77 L643.4 112.89 L643.9 113.00 L644.4 113.12 L644.9 113.23 L645.4 113.33 L645.9 113.43 L646.4 113.53 L646.9 113.62 L647.4 113.71 L647.9 113.79 L648.4 113.88 L648.9 113.96 L649.4 114.05 L649.9 114.13 L650.4 114.22 L650.9 114.30 L651.4 114.38 L651.9 114.45 L652.4 114.53 L652.9 114.61 L653.4 114.68 L653.9 114.75 L654.4 114.82 L654.9 114.89 L655.4 114.96 L655.9 115.02 L656.4 115.09 L656.9 115.15 L657.4 115.20 L657.9 115.26 L658.4 115.31 L658.9 115.36 L659.4 115.41 L659.9 115.45 L660.4 115.50 L660.9 115.54 L661.4 115.57 L661.9 115.61 L662.4 115.64 L662.9 115.67 L663.4 115.70 L663.9 115.73 L664.4 115.76 L664.9 115.79 L665.4 115.82 L665.9 115.85 L666.4 115.88 L666.9 115.91 L667.4 115.94 L667.9 115.97 L668.4 116.00 L668.9 116.02 L669.4 116.05 L669.9 116.08 L670.4 116.11 L670.9 116.13 L671.4 116.16 L671.9 116.18 L672.4 116.21 L672.9 116.23 L673.4 116.26 L673.9 116.28 L674.4 116.31 L674.9 116.33 L675.4 116.35 L675.9 116.37 L676.4 116.40 L676.9 116.42 L677.4 116.44 L677.9 116.46 L678.4 116.48 L678.9 116.50 L679.4 116.53 L679.9 116.55 L680.4 116.57 L680.9 116.59 L681.4 116.61 L681.9 116.62 L682.4 116.64 L682.9 116.66 L683.4 116.68 L683.9 116.70 L684.4 116.72 L684.9 116.73 L685.4 116.75 L685.9 116.77 L686.4 116.78 L686.9 116.80 L687.4 116.82 L687.9 116.83 L688.4 116.85 L688.9 116.86 L689.4 116.88 L689.9 116.89 L690.4 116.91 L690.9 116.92 L691.4 116.93 L691.9 116.95 L692.4 116.96 L692.9 116.97 L693.4 116.99 L693.9 117.00 L694.4 117.01 L694.9 117.02 L695.4 117.04 L695.9 117.05 L696.4 117.06 L696.9 117.07 L697.4 117.08 L697.9 117.09 L698.4 117.10 L698.9 117.11 L699.4 117.12 L699.9 117.13 L700.4 117.14 L700.9 117.15 L701.4 117.16 L701.9 117.17 L702.4 117.18 L702.9 117.19 L703.4 117.20 L703.9 117.20 L704.4 117.21 L704.9 117.22 L705.4 117.23 L705.9 117.24 L706.4 117.24 L706.9 117.25 L707.4 117.26 L707.9 117.27 L708.4 117.27 L708.9 117.28 L709.4 117.29 L709.9 117.30 L710.4 117.31 L710.9 117.31 L711.4 117.32 L711.9 117.33 L712.4 117.34 L712.9 117.34 L713.4 117.35 L713.9 117.36 L714.4 117.37 L714.9 117.37 L715.4 117.38 L715.9 117.39 L716.4 117.40 L716.9 117.40 L717.4 117.41 L717.9 117.42 L718.4 117.42 L718.9 117.43 L719.4 117.44 L719.9 117.45 L720.4 117.45 L720.9 117.46 L721.4 117.47 L721.9 117.47 L722.4 117.48 L722.9 117.49 L723.4 117.49 L723.9 117.50 L724.4 117.51 L724.9 117.51 L725.4 117.52 L725.9 117.53 L726.4 117.53 L726.9 117.54 L727.4 117.55 L727.9 117.55 L728.4 117.56 L728.9 117.57 L729.4 117.57 L729.9 117.58 L730.4 117.59 L730.9 117.59 L731.4 117.60 L731.9 117.60 L732.4 117.61 L732.9 117.62 L733.4 117.62 L733.9 117.63 L734.4 117.63 L734.9 117.64 L735.4 117.64 L735.9 117.65 L736.4 117.66 L736.9 117.66 L737.4 117.67 L737.9 117.67 L738.4 117.68 L738.9 117.68 L739.4 117.69 L739.9 117.69 L740.4 117.70 L740.9 117.70 L741.4 117.71 L741.9 117.71 L742.4 117.72 L742.9 117.72 L743.4 117.73 L743.9 117.73 L744.4 117.74 L744.9 117.74 L745.4 117.75 L745.9 117.75 L746.4 117.76 L746.9 117.76 L747.4 117.76 L747.9 117.77 L748.4 117.77 L748.9 117.78 L749.4 117.78 L749.9 117.79 L750.4 117.79 L750.9 117.79 L751.4 117.80 L751.9 117.80 L752.4 117.81 L752.9 117.81 L753.4 117.81 L753.9 117.82 L754.4 117.82 L754.9 117.82 L755.4 117.83 L755.9 117.83 L756.4 117.83 L756.9 117.84 L757.4 117.84 L757.9 117.84 L758.4 117.84 L758.9 117.85 L759.4 117.85 L759.9 117.85 L760.4 117.86 L760.9 117.86 L761.4 117.86 L761.9 117.86 L762.4 117.87 L762.9 117.87 L763.4 117.87 L763.9 117.87 L764.4 117.87 L764.9 117.88 L765.4 117.88 L765.9 117.88 L766.4 117.88 L766.9 117.88 L767.4 117.88 L767.9 117.89 L768.4 117.89 L768.9 117.89 L769.4 117.89 L769.9 117.89 L770.4 117.89 L770.9 117.89 L771.4 117.89 L771.9 117.90 L772.4 117.90 L772.9 117.90 L773.4 117.90 L773.9 117.90 L774.4 117.90 L774.9 117.90 L775.4 117.90 L775.9 117.90 L776.4 117.90 L776.9 117.90 L777.0 117.90" fill="none" stroke="#54c29c" stroke-width="1.6" stroke-linejoin="round"/>
<path d="M396.9 153.80 L397.4 153.80 L397.9 153.80 L398.4 153.80 L398.9 153.80 L399.4 153.80 L399.9 153.80 L400.4 153.80 L400.9 153.80 L401.4 153.80 L401.9 153.80 L402.4 153.80 L402.9 153.80 L403.4 153.80 L403.9 153.79 L404.4 153.79 L404.9 153.79 L405.4 153.79 L405.9 153.79 L406.4 153.79 L406.9 153.79 L407.4 153.79 L407.9 153.79 L408.4 153.79 L408.9 153.78 L409.4 153.78 L409.9 153.78 L410.4 153.78 L410.9 153.78 L411.4 153.78 L411.9 153.78 L412.4 153.77 L412.9 153.77 L413.4 153.77 L413.9 153.77 L414.4 153.77 L414.9 153.77 L415.4 153.76 L415.9 153.76 L416.4 153.76 L416.9 153.76 L417.4 153.76 L417.9 153.75 L418.4 153.75 L418.9 153.75 L419.4 153.75 L419.9 153.75 L420.4 153.74 L420.9 153.74 L421.4 153.74 L421.9 153.74 L422.4 153.73 L422.9 153.73 L423.4 153.73 L423.9 153.73 L424.4 153.72 L424.9 153.72 L425.4 153.72 L425.9 153.72 L426.4 153.71 L426.9 153.71 L427.4 153.71 L427.9 153.70 L428.4 153.70 L428.9 153.70 L429.4 153.69 L429.9 153.69 L430.4 153.69 L430.9 153.69 L431.4 153.68 L431.9 153.68 L432.4 153.68 L432.9 153.67 L433.4 153.67 L433.9 153.67 L434.4 153.66 L434.9 153.66 L435.4 153.65 L435.9 153.65 L436.4 153.65 L436.9 153.64 L437.4 153.64 L437.9 153.64 L438.4 153.63 L438.9 153.63 L439.4 153.63 L439.9 153.62 L440.4 153.62 L440.9 153.61 L441.4 153.61 L441.9 153.61 L442.4 153.60 L442.9 153.60 L443.4 153.59 L443.9 153.59 L444.4 153.59 L444.9 153.58 L445.4 153.58 L445.9 153.57 L446.4 153.57 L446.9 153.56 L447.4 153.56 L447.9 153.56 L448.4 153.55 L448.9 153.55 L449.4 153.54 L449.9 153.54 L450.4 153.53 L450.9 153.53 L451.4 153.52 L451.9 153.52 L452.4 153.51 L452.9 153.51 L453.4 153.51 L453.9 153.50 L454.4 153.50 L454.9 153.49 L455.4 153.49 L455.9 153.48 L456.4 153.48 L456.9 153.47 L457.4 153.47 L457.9 153.46 L458.4 153.46 L458.9 153.45 L459.4 153.45 L459.9 153.44 L460.4 153.44 L460.9 153.43 L461.4 153.43 L461.9 153.42 L462.4 153.42 L462.9 153.41 L463.4 153.41 L463.9 153.40 L464.4 153.40 L464.9 153.39 L465.4 153.38 L465.9 153.38 L466.4 153.37 L466.9 153.37 L467.4 153.36 L467.9 153.36 L468.4 153.35 L468.9 153.35 L469.4 153.34 L469.9 153.34 L470.4 153.33 L470.9 153.32 L471.4 153.32 L471.9 153.31 L472.4 153.31 L472.9 153.30 L473.4 153.30 L473.9 153.29 L474.4 153.29 L474.9 153.28 L475.4 153.27 L475.9 153.27 L476.4 153.26 L476.9 153.26 L477.4 153.25 L477.9 153.24 L478.4 153.24 L478.9 153.23 L479.4 153.23 L479.9 153.22 L480.4 153.22 L480.9 153.21 L481.4 153.20 L481.9 153.20 L482.4 153.19 L482.9 153.19 L483.4 153.18 L483.9 153.17 L484.4 153.17 L484.9 153.16 L485.4 153.16 L485.9 153.15 L486.4 153.14 L486.9 153.14 L487.4 153.13 L487.9 153.12 L488.4 153.12 L488.9 153.11 L489.4 153.11 L489.9 153.10 L490.4 153.09 L490.9 153.09 L491.4 153.08 L491.9 153.08 L492.4 153.07 L492.9 153.06 L493.4 153.06 L493.9 153.05 L494.4 153.05 L494.9 153.04 L495.4 153.03 L495.9 153.03 L496.4 153.02 L496.9 153.01 L497.4 153.01 L497.9 153.00 L498.4 153.00 L498.9 152.99 L499.4 152.98 L499.9 152.98 L500.4 152.97 L500.9 152.96 L501.4 152.96 L501.9 152.95 L502.4 152.94 L502.9 152.94 L503.4 152.93 L503.9 152.92 L504.4 152.92 L504.9 152.91 L505.4 152.90 L505.9 152.89 L506.4 152.88 L506.9 152.88 L507.4 152.87 L507.9 152.86 L508.4 152.85 L508.9 152.84 L509.4 152.83 L509.9 152.82 L510.4 152.82 L510.9 152.81 L511.4 152.80 L511.9 152.79 L512.4 152.78 L512.9 152.77 L513.4 152.76 L513.9 152.74 L514.4 152.73 L514.9 152.72 L515.4 152.71 L515.9 152.70 L516.4 152.69 L516.9 152.67 L517.4 152.66 L517.9 152.65 L518.4 152.64 L518.9 152.62 L519.4 152.61 L519.9 152.60 L520.4 152.58 L520.9 152.57 L521.4 152.55 L521.9 152.54 L522.4 152.52 L522.9 152.50 L523.4 152.49 L523.9 152.47 L524.4 152.45 L524.9 152.44 L525.4 152.42 L525.9 152.40 L526.4 152.38 L526.9 152.36 L527.4 152.34 L527.9 152.32 L528.4 152.30 L528.9 152.28 L529.4 152.26 L529.9 152.24 L530.4 152.22 L530.9 152.20 L531.4 152.17 L531.9 152.15 L532.4 152.13 L532.9 152.10 L533.4 152.08 L533.9 152.05 L534.4 152.03 L534.9 152.00 L535.4 151.98 L535.9 151.95 L536.4 151.92 L536.9 151.89 L537.4 151.86 L537.9 151.81 L538.4 151.75 L538.9 151.68 L539.4 151.60 L539.9 151.51 L540.4 151.41 L540.9 151.30 L541.4 151.18 L541.9 151.06 L542.4 150.92 L542.9 150.78 L543.4 150.64 L543.9 150.48 L544.4 150.32 L544.9 150.15 L545.4 149.98 L545.9 149.81 L546.4 149.62 L546.9 149.33 L547.4 148.96 L547.9 148.54 L548.4 148.11 L548.9 147.71 L549.4 147.36 L549.9 147.12 L550.4 147.00 L550.9 147.05 L551.4 147.25 L551.9 147.55 L552.4 147.92 L552.9 148.31 L553.4 148.68 L553.9 149.00 L554.4 149.22 L554.9 149.30 L555.4 149.30 L555.9 149.29 L556.4 149.29 L556.9 149.28 L557.4 149.27 L557.9 149.25 L558.4 149.24 L558.9 149.22 L559.4 149.20 L559.9 149.17 L560.4 149.15 L560.9 149.12 L561.4 149.10 L561.9 149.07 L562.4 149.03 L562.9 149.00 L563.4 148.97 L563.9 148.93 L564.4 148.89 L564.9 148.86 L565.4 148.82 L565.9 148.77 L566.4 148.72 L566.9 148.64 L567.4 148.56 L567.9 148.46 L568.4 148.35 L568.9 148.23 L569.4 148.10 L569.9 147.96 L570.4 147.81 L570.9 147.66 L571.4 147.50 L571.9 147.33 L572.4 147.15 L572.9 146.97 L573.4 146.79 L573.9 146.60 L574.4 146.42 L574.9 146.23 L575.4 146.04 L575.9 145.85 L576.4 145.66 L576.9 145.47 L577.4 145.26 L577.9 145.05 L578.4 144.82 L578.9 144.59 L579.4 144.35 L579.9 144.10 L580.4 143.84 L580.9 143.57 L581.4 143.31 L581.9 143.03 L582.4 142.75 L582.9 142.47 L583.4 142.18 L583.9 141.89 L584.4 141.60 L584.9 141.30 L585.4 141.01 L585.9 140.71 L586.4 140.41 L586.9 140.12 L587.4 139.82 L587.9 139.50 L588.4 139.17 L588.9 138.82 L589.4 138.46 L589.9 138.09 L590.4 137.72 L590.9 137.34 L591.4 136.97 L591.9 136.60 L592.4 136.23 L592.9 135.87 L593.4 135.53 L593.9 135.19 L594.4 134.88 L594.9 134.59 L595.4 134.32 L595.9 134.07 L596.4 133.86 L596.9 133.65 L597.4 133.44 L597.9 133.23 L598.4 133.02 L598.9 132.81 L599.4 132.62 L599.9 132.43 L600.4 132.26 L600.9 132.10 L601.4 131.96 L601.9 131.83 L602.4 131.74 L602.9 131.66 L603.4 131.62 L603.9 131.60 L604.4 131.61 L604.9 131.65 L605.4 131.71 L605.9 131.78 L606.4 131.88 L606.9 131.99 L607.4 132.12 L607.9 132.26 L608.4 132.41 L608.9 132.57 L609.4 132.73 L609.9 132.91 L610.4 133.08 L610.9 133.26 L611.4 133.43 L611.9 133.61 L612.4 133.81 L612.9 134.04 L613.4 134.29 L613.9 134.56 L614.4 134.85 L614.9 135.16 L615.4 135.48 L615.9 135.80 L616.4 136.14 L616.9 136.48 L617.4 136.83 L617.9 137.18 L618.4 137.53 L618.9 137.87 L619.4 138.21 L619.9 138.54 L620.4 138.85 L620.9 139.16 L621.4 139.47 L621.9 139.78 L622.4 140.09 L622.9 140.41 L623.4 140.73 L623.9 141.06 L624.4 141.38 L624.9 141.70 L625.4 142.01 L625.9 142.33 L626.4 142.64 L626.9 142.94 L627.4 143.23 L627.9 143.52 L628.4 143.80 L628.9 144.06 L629.4 144.31 L629.9 144.55 L630.4 144.78 L630.9 145.01 L631.4 145.24 L631.9 145.46 L632.4 145.68 L632.9 145.90 L633.4 146.11 L633.9 146.31 L634.4 146.51 L634.9 146.70 L635.4 146.89 L635.9 147.07 L636.4 147.23 L636.9 147.39 L637.4 147.54 L637.9 147.68 L638.4 147.81 L638.9 147.92 L639.4 148.03 L639.9 148.14 L640.4 148.25 L640.9 148.35 L641.4 148.45 L641.9 148.56 L642.4 148.65 L642.9 148.75 L643.4 148.85 L643.9 148.94 L644.4 149.04 L644.9 149.13 L645.4 149.21 L645.9 149.30 L646.4 149.39 L646.9 149.47 L647.4 149.55 L647.9 149.63 L648.4 149.71 L648.9 149.79 L649.4 149.87 L649.9 149.94 L650.4 150.01 L650.9 150.08 L651.4 150.15 L651.9 150.22 L652.4 150.28 L652.9 150.35 L653.4 150.41 L653.9 150.47 L654.4 150.53 L654.9 150.58 L655.4 150.64 L655.9 150.69 L656.4 150.74 L656.9 150.79 L657.4 150.84 L657.9 150.89 L658.4 150.94 L658.9 150.98 L659.4 151.02 L659.9 151.06 L660.4 151.10 L660.9 151.14 L661.4 151.17 L661.9 151.21 L662.4 151.24 L662.9 151.27 L663.4 151.31 L663.9 151.34 L664.4 151.37 L664.9 151.40 L665.4 151.43 L665.9 151.47 L666.4 151.50 L666.9 151.53 L667.4 151.56 L667.9 151.59 L668.4 151.62 L668.9 151.65 L669.4 151.68 L669.9 151.71 L670.4 151.73 L670.9 151.76 L671.4 151.79 L671.9 151.82 L672.4 151.85 L672.9 151.87 L673.4 151.90 L673.9 151.93 L674.4 151.95 L674.9 151.98 L675.4 152.01 L675.9 152.03 L676.4 152.06 L676.9 152.08 L677.4 152.11 L677.9 152.13 L678.4 152.15 L678.9 152.18 L679.4 152.20 L679.9 152.22 L680.4 152.25 L680.9 152.27 L681.4 152.29 L681.9 152.31 L682.4 152.33 L682.9 152.35 L683.4 152.38 L683.9 152.40 L684.4 152.42 L684.9 152.43 L685.4 152.45 L685.9 152.47 L686.4 152.49 L686.9 152.51 L687.4 152.53 L687.9 152.54 L688.4 152.56 L688.9 152.58 L689.4 152.59 L689.9 152.61 L690.4 152.63 L690.9 152.64 L691.4 152.66 L691.9 152.67 L692.4 152.68 L692.9 152.70 L693.4 152.71 L693.9 152.72 L694.4 152.74 L694.9 152.75 L695.4 152.76 L695.9 152.77 L696.4 152.78 L696.9 152.79 L697.4 152.80 L697.9 152.81 L698.4 152.82 L698.9 152.83 L699.4 152.84 L699.9 152.85 L700.4 152.86 L700.9 152.87 L701.4 152.87 L701.9 152.88 L702.4 152.89 L702.9 152.89 L703.4 152.90 L703.9 152.90 L704.4 152.91 L704.9 152.91 L705.4 152.92 L705.9 152.92 L706.4 152.93 L706.9 152.93 L707.4 152.94 L707.9 152.94 L708.4 152.95 L708.9 152.95 L709.4 152.95 L709.9 152.96 L710.4 152.96 L710.9 152.97 L711.4 152.97 L711.9 152.98 L712.4 152.98 L712.9 152.98 L713.4 152.99 L713.9 152.99 L714.4 153.00 L714.9 153.00 L715.4 153.00 L715.9 153.01 L716.4 153.01 L716.9 153.02 L717.4 153.02 L717.9 153.02 L718.4 153.03 L718.9 153.03 L719.4 153.03 L719.9 153.04 L720.4 153.04 L720.9 153.04 L721.4 153.05 L721.9 153.05 L722.4 153.05 L722.9 153.05 L723.4 153.06 L723.9 153.06 L724.4 153.06 L724.9 153.07 L725.4 153.07 L725.9 153.07 L726.4 153.07 L726.9 153.07 L727.4 153.08 L727.9 153.08 L728.4 153.08 L728.9 153.08 L729.4 153.08 L729.9 153.09 L730.4 153.09 L730.9 153.09 L731.4 153.09 L731.9 153.09 L732.4 153.09 L732.9 153.09 L733.4 153.10 L733.9 153.10 L734.4 153.10 L734.9 153.10 L735.4 153.10 L735.9 153.10 L736.4 153.10 L736.9 153.10 L737.4 153.10 L737.9 153.10 L738.4 153.05 L738.9 152.86 L739.4 152.60 L739.9 152.30 L740.4 152.04 L740.9 151.85 L741.4 151.80 L741.9 151.92 L742.4 152.15 L742.9 152.44 L743.4 152.74 L743.9 152.97 L744.4 153.09 L744.9 153.11 L745.4 153.11 L745.9 153.12 L746.4 153.13 L746.9 153.14 L747.4 153.14 L747.9 153.15 L748.4 153.16 L748.9 153.16 L749.4 153.17 L749.9 153.18 L750.4 153.18 L750.9 153.19 L751.4 153.19 L751.9 153.20 L752.4 153.20 L752.9 153.21 L753.4 153.21 L753.9 153.22 L754.4 153.22 L754.9 153.23 L755.4 153.23 L755.9 153.24 L756.4 153.24 L756.9 153.24 L757.4 153.25 L757.9 153.25 L758.4 153.25 L758.9 153.26 L759.4 153.26 L759.9 153.26 L760.4 153.27 L760.9 153.27 L761.4 153.27 L761.9 153.27 L762.4 153.27 L762.9 153.28 L763.4 153.28 L763.9 153.28 L764.4 153.28 L764.9 153.28 L765.4 153.29 L765.9 153.29 L766.4 153.29 L766.9 153.29 L767.4 153.29 L767.9 153.29 L768.4 153.29 L768.9 153.29 L769.4 153.29 L769.9 153.30 L770.4 153.30 L770.9 153.30 L771.4 153.30 L771.9 153.30 L772.4 153.30 L772.9 153.30 L773.4 153.30 L773.9 153.30 L774.4 153.30 L774.9 153.30 L775.4 153.30 L775.9 153.30 L776.4 153.30 L776.9 153.30 L777.0 153.30" fill="none" stroke="#58c060" stroke-width="1.6" stroke-linejoin="round"/>
<path d="M396.9 189.30 L397.4 189.30 L397.9 189.29 L398.4 189.29 L398.9 189.29 L399.4 189.28 L399.9 189.28 L400.4 189.27 L400.9 189.27 L401.4 189.26 L401.9 189.26 L402.4 189.25 L402.9 189.25 L403.4 189.24 L403.9 189.24 L404.4 189.23 L404.9 189.23 L405.4 189.22 L405.9 189.22 L406.4 189.21 L406.9 189.21 L407.4 189.20 L407.9 189.19 L408.4 189.19 L408.9 189.18 L409.4 189.17 L409.9 189.17 L410.4 189.16 L410.9 189.15 L411.4 189.15 L411.9 189.14 L412.4 189.13 L412.9 189.13 L413.4 189.12 L413.9 189.11 L414.4 189.10 L414.9 189.10 L415.4 189.09 L415.9 189.08 L416.4 189.07 L416.9 189.06 L417.4 189.06 L417.9 189.05 L418.4 189.04 L418.9 189.03 L419.4 189.02 L419.9 189.01 L420.4 189.00 L420.9 189.00 L421.4 188.99 L421.9 188.98 L422.4 188.97 L422.9 188.96 L423.4 188.95 L423.9 188.94 L424.4 188.93 L424.9 188.92 L425.4 188.91 L425.9 188.90 L426.4 188.89 L426.9 188.88 L427.4 188.87 L427.9 188.86 L428.4 188.85 L428.9 188.84 L429.4 188.83 L429.9 188.82 L430.4 188.81 L430.9 188.80 L431.4 188.79 L431.9 188.78 L432.4 188.77 L432.9 188.76 L433.4 188.75 L433.9 188.73 L434.4 188.72 L434.9 188.71 L435.4 188.70 L435.9 188.69 L436.4 188.68 L436.9 188.67 L437.4 188.66 L437.9 188.64 L438.4 188.63 L438.9 188.62 L439.4 188.61 L439.9 188.60 L440.4 188.58 L440.9 188.57 L441.4 188.56 L441.9 188.55 L442.4 188.54 L442.9 188.52 L443.4 188.51 L443.9 188.50 L444.4 188.49 L444.9 188.47 L445.4 188.46 L445.9 188.45 L446.4 188.44 L446.9 188.42 L447.4 188.41 L447.9 188.40 L448.4 188.39 L448.9 188.37 L449.4 188.36 L449.9 188.35 L450.4 188.33 L450.9 188.32 L451.4 188.31 L451.9 188.30 L452.4 188.28 L452.9 188.27 L453.4 188.26 L453.9 188.24 L454.4 188.23 L454.9 188.22 L455.4 188.20 L455.9 188.19 L456.4 188.18 L456.9 188.16 L457.4 188.15 L457.9 188.13 L458.4 188.12 L458.9 188.11 L459.4 188.09 L459.9 188.08 L460.4 188.07 L460.9 188.05 L461.4 188.04 L461.9 188.03 L462.4 188.01 L462.9 188.00 L463.4 187.98 L463.9 187.97 L464.4 187.96 L464.9 187.94 L465.4 187.93 L465.9 187.91 L466.4 187.90 L466.9 187.89 L467.4 187.87 L467.9 187.86 L468.4 187.84 L468.9 187.83 L469.4 187.82 L469.9 187.80 L470.4 187.79 L470.9 187.78 L471.4 187.76 L471.9 187.75 L472.4 187.74 L472.9 187.72 L473.4 187.71 L473.9 187.70 L474.4 187.68 L474.9 187.67 L475.4 187.66 L475.9 187.64 L476.4 187.63 L476.9 187.62 L477.4 187.60 L477.9 187.59 L478.4 187.58 L478.9 187.56 L479.4 187.55 L479.9 187.54 L480.4 187.52 L480.9 187.51 L481.4 187.50 L481.9 187.48 L482.4 187.47 L482.9 187.45 L483.4 187.44 L483.9 187.42 L484.4 187.41 L484.9 187.40 L485.4 187.38 L485.9 187.37 L486.4 187.35 L486.9 187.34 L487.4 187.32 L487.9 187.30 L488.4 187.29 L488.9 187.27 L489.4 187.26 L489.9 187.24 L490.4 187.22 L490.9 187.21 L491.4 187.19 L491.9 187.17 L492.4 187.16 L492.9 187.14 L493.4 187.12 L493.9 187.10 L494.4 187.08 L494.9 187.06 L495.4 187.05 L495.9 187.03 L496.4 187.01 L496.9 186.99 L497.4 186.97 L497.9 186.95 L498.4 186.93 L498.9 186.90 L499.4 186.88 L499.9 186.86 L500.4 186.84 L500.9 186.82 L501.4 186.79 L501.9 186.77 L502.4 186.75 L502.9 186.72 L503.4 186.70 L503.9 186.68 L504.4 186.65 L504.9 186.63 L505.4 186.60 L505.9 186.57 L506.4 186.55 L506.9 186.52 L507.4 186.49 L507.9 186.47 L508.4 186.44 L508.9 186.41 L509.4 186.38 L509.9 186.35 L510.4 186.32 L510.9 186.29 L511.4 186.26 L511.9 186.23 L512.4 186.20 L512.9 186.16 L513.4 186.13 L513.9 186.10 L514.4 186.06 L514.9 186.03 L515.4 185.99 L515.9 185.96 L516.4 185.92 L516.9 185.89 L517.4 185.85 L517.9 185.81 L518.4 185.77 L518.9 185.73 L519.4 185.69 L519.9 185.65 L520.4 185.61 L520.9 185.57 L521.4 185.53 L521.9 185.49 L522.4 185.44 L522.9 185.40 L523.4 185.34 L523.9 185.25 L524.4 185.14 L524.9 185.02 L525.4 184.88 L525.9 184.74 L526.4 184.59 L526.9 184.44 L527.4 184.29 L527.9 184.14 L528.4 184.01 L528.9 183.90 L529.4 183.80 L529.9 183.72 L530.4 183.67 L530.9 183.64 L531.4 183.64 L531.9 183.65 L532.4 183.67 L532.9 183.69 L533.4 183.72 L533.9 183.76 L534.4 183.79 L534.9 183.83 L535.4 183.87 L535.9 183.92 L536.4 183.96 L536.9 184.00 L537.4 184.05 L537.9 184.09 L538.4 184.13 L538.9 184.16 L539.4 184.19 L539.9 184.22 L540.4 184.24 L540.9 184.25 L541.4 184.25 L541.9 184.25 L542.4 184.25 L542.9 184.24 L543.4 184.23 L543.9 184.22 L544.4 184.20 L544.9 184.18 L545.4 184.15 L545.9 184.13 L546.4 184.10 L546.9 184.07 L547.4 184.03 L547.9 184.00 L548.4 183.96 L548.9 183.91 L549.4 183.87 L549.9 183.82 L550.4 183.78 L550.9 183.73 L551.4 183.67 L551.9 183.62 L552.4 183.56 L552.9 183.51 L553.4 183.45 L553.9 183.38 L554.4 183.32 L554.9 183.26 L555.4 183.19 L555.9 183.13 L556.4 183.06 L556.9 182.99 L557.4 182.92 L557.9 182.85 L558.4 182.78 L558.9 182.71 L559.4 182.63 L559.9 182.56 L560.4 182.49 L560.9 182.41 L561.4 182.34 L561.9 182.26 L562.4 182.19 L562.9 182.11 L563.4 182.04 L563.9 181.96 L564.4 181.89 L564.9 181.81 L565.4 181.74 L565.9 181.66 L566.4 181.58 L566.9 181.49 L567.4 181.40 L567.9 181.31 L568.4 181.21 L568.9 181.11 L569.4 181.01 L569.9 180.90 L570.4 180.79 L570.9 180.67 L571.4 180.55 L571.9 180.42 L572.4 180.30 L572.9 180.16 L573.4 180.03 L573.9 179.89 L574.4 179.74 L574.9 179.56 L575.4 179.36 L575.9 179.13 L576.4 178.87 L576.9 178.60 L577.4 178.31 L577.9 178.02 L578.4 177.71 L578.9 177.40 L579.4 177.09 L579.9 176.78 L580.4 176.48 L580.9 176.19 L581.4 175.92 L581.9 175.66 L582.4 175.43 L582.9 175.22 L583.4 175.04 L583.9 174.90 L584.4 174.79 L584.9 174.72 L585.4 174.70 L585.9 174.70 L586.4 174.71 L586.9 174.71 L587.4 174.72 L587.9 174.74 L588.4 174.75 L588.9 174.77 L589.4 174.79 L589.9 174.81 L590.4 174.83 L590.9 174.85 L591.4 174.87 L591.9 174.90 L592.4 174.92 L592.9 174.96 L593.4 175.00 L593.9 175.06 L594.4 175.12 L594.9 175.18 L595.4 175.25 L595.9 175.33 L596.4 175.41 L596.9 175.48 L597.4 175.56 L597.9 175.64 L598.4 175.71 L598.9 175.78 L599.4 175.85 L599.9 175.91 L600.4 175.97 L600.9 176.01 L601.4 176.05 L601.9 176.08 L602.4 176.10 L602.9 176.10 L603.4 176.10 L603.9 176.09 L604.4 176.08 L604.9 176.07 L605.4 176.06 L605.9 176.04 L606.4 176.02 L606.9 176.00 L607.4 175.97 L607.9 175.95 L608.4 175.92 L608.9 175.89 L609.4 175.86 L609.9 175.83 L610.4 175.80 L610.9 175.77 L611.4 175.74 L611.9 175.71 L612.4 175.67 L612.9 175.63 L613.4 175.57 L613.9 175.51 L614.4 175.45 L614.9 175.38 L615.4 175.30 L615.9 175.23 L616.4 175.15 L616.9 175.08 L617.4 175.01 L617.9 174.94 L618.4 174.88 L618.9 174.82 L619.4 174.78 L619.9 174.74 L620.4 174.71 L620.9 174.70 L621.4 174.71 L621.9 174.75 L622.4 174.84 L622.9 174.96 L623.4 175.10 L623.9 175.28 L624.4 175.47 L624.9 175.67 L625.4 175.89 L625.9 176.11 L626.4 176.33 L626.9 176.55 L627.4 176.76 L627.9 176.96 L628.4 177.15 L628.9 177.36 L629.4 177.57 L629.9 177.80 L630.4 178.03 L630.9 178.26 L631.4 178.50 L631.9 178.74 L632.4 178.99 L632.9 179.23 L633.4 179.47 L633.9 179.70 L634.4 179.93 L634.9 180.16 L635.4 180.37 L635.9 180.57 L636.4 180.76 L636.9 180.94 L637.4 181.10 L637.9 181.25 L638.4 181.38 L638.9 181.50 L639.4 181.62 L639.9 181.74 L640.4 181.85 L640.9 181.97 L641.4 182.10 L641.9 182.23 L642.4 182.37 L642.9 182.51 L643.4 182.65 L643.9 182.79 L644.4 182.94 L644.9 183.08 L645.4 183.23 L645.9 183.38 L646.4 183.52 L646.9 183.67 L647.4 183.81 L647.9 183.95 L648.4 184.09 L648.9 184.23 L649.4 184.36 L649.9 184.49 L650.4 184.61 L650.9 184.73 L651.4 184.85 L651.9 184.95 L652.4 185.06 L652.9 185.15 L653.4 185.24 L653.9 185.32 L654.4 185.39 L654.9 185.46 L655.4 185.53 L655.9 185.59 L656.4 185.65 L656.9 185.71 L657.4 185.76 L657.9 185.82 L658.4 185.87 L658.9 185.92 L659.4 185.97 L659.9 186.02 L660.4 186.07 L660.9 186.11 L661.4 186.16 L661.9 186.21 L662.4 186.26 L662.9 186.31 L663.4 186.36 L663.9 186.41 L664.4 186.46 L664.9 186.51 L665.4 186.56 L665.9 186.61 L666.4 186.66 L666.9 186.71 L667.4 186.77 L667.9 186.82 L668.4 186.87 L668.9 186.92 L669.4 186.97 L669.9 187.03 L670.4 187.08 L670.9 187.13 L671.4 187.18 L671.9 187.23 L672.4 187.28 L672.9 187.33 L673.4 187.38 L673.9 187.43 L674.4 187.48 L674.9 187.53 L675.4 187.57 L675.9 187.62 L676.4 187.66 L676.9 187.71 L677.4 187.75 L677.9 187.79 L678.4 187.83 L678.9 187.87 L679.4 187.91 L679.9 187.94 L680.4 187.98 L680.9 188.01 L681.4 188.04 L681.9 188.08 L682.4 188.10 L682.9 188.13 L683.4 188.16 L683.9 188.18 L684.4 188.20 L684.9 188.22 L685.4 188.24 L685.9 188.25 L686.4 188.27 L686.9 188.28 L687.4 188.29 L687.9 188.29 L688.4 188.30 L688.9 188.30 L689.4 188.30 L689.9 188.30 L690.4 188.30 L690.9 188.30 L691.4 188.30 L691.9 188.30 L692.4 188.30 L692.9 188.30 L693.4 188.30 L693.9 188.30 L694.4 188.30 L694.9 188.30 L695.4 188.30 L695.9 188.30 L696.4 188.30 L696.9 188.30 L697.4 188.30 L697.9 188.30 L698.4 188.30 L698.9 188.30 L699.4 188.30 L699.9 188.30 L700.4 188.30 L700.9 188.30 L701.4 188.30 L701.9 188.30 L702.4 188.30 L702.9 188.30 L703.4 188.30 L703.9 188.30 L704.4 188.30 L704.9 188.30 L705.4 188.30 L705.9 188.30 L706.4 188.30 L706.9 188.30 L707.4 188.30 L707.9 188.30 L708.4 188.30 L708.9 188.30 L709.4 188.30 L709.9 188.30 L710.4 188.30 L710.9 188.30 L711.4 188.30 L711.9 188.30 L712.4 188.30 L712.9 188.30 L713.4 188.30 L713.9 188.30 L714.4 188.30 L714.9 188.30 L715.4 188.30 L715.9 188.30 L716.4 188.30 L716.9 188.30 L717.4 188.30 L717.9 188.30 L718.4 188.30 L718.9 188.30 L719.4 188.30 L719.9 188.30 L720.4 188.30 L720.9 188.30 L721.4 188.30 L721.9 188.30 L722.4 188.30 L722.9 188.30 L723.4 188.30 L723.9 188.30 L724.4 188.30 L724.9 188.30 L725.4 188.30 L725.9 188.30 L726.4 188.30 L726.9 188.30 L727.4 188.30 L727.9 188.30 L728.4 188.30 L728.9 188.30 L729.4 188.30 L729.9 188.30 L730.4 188.30 L730.9 188.30 L731.4 188.30 L731.9 188.30 L732.4 188.30 L732.9 188.30 L733.4 188.30 L733.9 188.30 L734.4 188.30 L734.9 188.30 L735.4 188.30 L735.9 188.30 L736.4 188.30 L736.9 188.30 L737.4 188.30 L737.9 188.30 L738.4 188.30 L738.9 188.30 L739.4 188.30 L739.9 188.30 L740.4 188.30 L740.9 188.30 L741.4 188.30 L741.9 188.30 L742.4 188.30 L742.9 188.30 L743.4 188.30 L743.9 188.30 L744.4 188.30 L744.9 188.30 L745.4 188.30 L745.9 188.30 L746.4 188.30 L746.9 188.30 L747.4 188.30 L747.9 188.30 L748.4 188.30 L748.9 188.30 L749.4 188.30 L749.9 188.30 L750.4 188.30 L750.9 188.30 L751.4 188.30 L751.9 188.30 L752.4 188.30 L752.9 188.30 L753.4 188.30 L753.9 188.30 L754.4 188.30 L754.9 188.30 L755.4 188.30 L755.9 188.30 L756.4 188.30 L756.9 188.30 L757.4 188.30 L757.9 188.30 L758.4 188.30 L758.9 188.30 L759.4 188.30 L759.9 188.30 L760.4 188.30 L760.9 188.30 L761.4 188.30 L761.9 188.30 L762.4 188.30 L762.9 188.30 L763.4 188.30 L763.9 188.30 L764.4 188.30 L764.9 188.30 L765.4 188.30 L765.9 188.30 L766.4 188.30 L766.9 188.30 L767.4 188.30 L767.9 188.30 L768.4 188.30 L768.9 188.30 L769.4 188.30 L769.9 188.30 L770.4 188.30 L770.9 188.30 L771.4 188.30 L771.9 188.30 L772.4 188.30 L772.9 188.30 L773.4 188.30 L773.9 188.30 L774.4 188.30 L774.9 188.30 L775.4 188.30 L775.9 188.30 L776.4 188.30 L776.9 188.30 L777.0 188.30" fill="none" stroke="#74c262" stroke-width="1.6" stroke-linejoin="round"/>
<path d="M396.9 223.10 L397.4 223.10 L397.9 223.10 L398.4 223.10 L398.9 223.10 L399.4 223.10 L399.9 223.10 L400.4 223.10 L400.9 223.09 L401.4 223.09 L401.9 223.09 L402.4 223.09 L402.9 223.09 L403.4 223.09 L403.9 223.09 L404.4 223.08 L404.9 223.08 L405.4 223.08 L405.9 223.08 L406.4 223.08 L406.9 223.07 L407.4 223.07 L407.9 223.07 L408.4 223.07 L408.9 223.06 L409.4 223.06 L409.9 223.06 L410.4 223.06 L410.9 223.05 L411.4 223.05 L411.9 223.05 L412.4 223.04 L412.9 223.04 L413.4 223.04 L413.9 223.03 L414.4 223.03 L414.9 223.03 L415.4 223.02 L415.9 223.02 L416.4 223.02 L416.9 223.01 L417.4 223.01 L417.9 223.01 L418.4 223.00 L418.9 223.00 L419.4 222.99 L419.9 222.99 L420.4 222.99 L420.9 222.98 L421.4 222.98 L421.9 222.97 L422.4 222.97 L422.9 222.96 L423.4 222.96 L423.9 222.95 L424.4 222.95 L424.9 222.94 L425.4 222.94 L425.9 222.93 L426.4 222.93 L426.9 222.92 L427.4 222.92 L427.9 222.91 L428.4 222.91 L428.9 222.90 L429.4 222.90 L429.9 222.89 L430.4 222.89 L430.9 222.88 L431.4 222.88 L431.9 222.87 L432.4 222.86 L432.9 222.86 L433.4 222.85 L433.9 222.85 L434.4 222.84 L434.9 222.84 L435.4 222.83 L435.9 222.82 L436.4 222.82 L436.9 222.81 L437.4 222.81 L437.9 222.80 L438.4 222.79 L438.9 222.79 L439.4 222.78 L439.9 222.77 L440.4 222.77 L440.9 222.76 L441.4 222.76 L441.9 222.75 L442.4 222.74 L442.9 222.74 L443.4 222.73 L443.9 222.72 L444.4 222.72 L444.9 222.71 L445.4 222.70 L445.9 222.70 L446.4 222.69 L446.9 222.68 L447.4 222.68 L447.9 222.67 L448.4 222.66 L448.9 222.65 L449.4 222.65 L449.9 222.64 L450.4 222.63 L450.9 222.63 L451.4 222.62 L451.9 222.61 L452.4 222.61 L452.9 222.60 L453.4 222.59 L453.9 222.58 L454.4 222.58 L454.9 222.57 L455.4 222.56 L455.9 222.55 L456.4 222.55 L456.9 222.54 L457.4 222.53 L457.9 222.53 L458.4 222.52 L458.9 222.51 L459.4 222.50 L459.9 222.50 L460.4 222.49 L460.9 222.48 L461.4 222.47 L461.9 222.47 L462.4 222.46 L462.9 222.45 L463.4 222.44 L463.9 222.44 L464.4 222.43 L464.9 222.42 L465.4 222.41 L465.9 222.41 L466.4 222.40 L466.9 222.39 L467.4 222.38 L467.9 222.38 L468.4 222.37 L468.9 222.36 L469.4 222.35 L469.9 222.34 L470.4 222.33 L470.9 222.32 L471.4 222.32 L471.9 222.31 L472.4 222.30 L472.9 222.29 L473.4 222.28 L473.9 222.27 L474.4 222.26 L474.9 222.24 L475.4 222.23 L475.9 222.22 L476.4 222.21 L476.9 222.20 L477.4 222.19 L477.9 222.18 L478.4 222.17 L478.9 222.15 L479.4 222.14 L479.9 222.13 L480.4 222.12 L480.9 222.11 L481.4 222.09 L481.9 222.08 L482.4 222.07 L482.9 222.05 L483.4 222.04 L483.9 222.03 L484.4 222.02 L484.9 222.00 L485.4 221.99 L485.9 221.98 L486.4 221.96 L486.9 221.95 L487.4 221.93 L487.9 221.92 L488.4 221.91 L488.9 221.89 L489.4 221.88 L489.9 221.87 L490.4 221.85 L490.9 221.84 L491.4 221.82 L491.9 221.81 L492.4 221.79 L492.9 221.78 L493.4 221.77 L493.9 221.75 L494.4 221.74 L494.9 221.72 L495.4 221.71 L495.9 221.69 L496.4 221.68 L496.9 221.66 L497.4 221.65 L497.9 221.63 L498.4 221.62 L498.9 221.60 L499.4 221.59 L499.9 221.57 L500.4 221.56 L500.9 221.55 L501.4 221.53 L501.9 221.52 L502.4 221.50 L502.9 221.49 L503.4 221.47 L503.9 221.46 L504.4 221.44 L504.9 221.43 L505.4 221.41 L505.9 221.40 L506.4 221.38 L506.9 221.37 L507.4 221.36 L507.9 221.34 L508.4 221.33 L508.9 221.31 L509.4 221.30 L509.9 221.28 L510.4 221.27 L510.9 221.26 L511.4 221.24 L511.9 221.23 L512.4 221.22 L512.9 221.20 L513.4 221.19 L513.9 221.17 L514.4 221.16 L514.9 221.15 L515.4 221.13 L515.9 221.12 L516.4 221.11 L516.9 221.10 L517.4 221.08 L517.9 221.07 L518.4 221.06 L518.9 221.04 L519.4 221.03 L519.9 221.02 L520.4 221.00 L520.9 220.99 L521.4 220.98 L521.9 220.97 L522.4 220.95 L522.9 220.94 L523.4 220.93 L523.9 220.91 L524.4 220.90 L524.9 220.89 L525.4 220.88 L525.9 220.86 L526.4 220.85 L526.9 220.84 L527.4 220.82 L527.9 220.81 L528.4 220.80 L528.9 220.78 L529.4 220.77 L529.9 220.76 L530.4 220.74 L530.9 220.73 L531.4 220.72 L531.9 220.70 L532.4 220.69 L532.9 220.68 L533.4 220.66 L533.9 220.65 L534.4 220.64 L534.9 220.62 L535.4 220.61 L535.9 220.59 L536.4 220.58 L536.9 220.57 L537.4 220.55 L537.9 220.54 L538.4 220.52 L538.9 220.51 L539.4 220.49 L539.9 220.48 L540.4 220.46 L540.9 220.45 L541.4 220.43 L541.9 220.42 L542.4 220.40 L542.9 220.39 L543.4 220.37 L543.9 220.35 L544.4 220.34 L544.9 220.32 L545.4 220.30 L545.9 220.29 L546.4 220.27 L546.9 220.25 L547.4 220.24 L547.9 220.22 L548.4 220.20 L548.9 220.18 L549.4 220.17 L549.9 220.15 L550.4 220.13 L550.9 220.12 L551.4 220.10 L551.9 220.08 L552.4 220.06 L552.9 220.04 L553.4 220.03 L553.9 220.01 L554.4 219.99 L554.9 219.97 L555.4 219.95 L555.9 219.92 L556.4 219.90 L556.9 219.88 L557.4 219.85 L557.9 219.83 L558.4 219.80 L558.9 219.77 L559.4 219.74 L559.9 219.71 L560.4 219.67 L560.9 219.63 L561.4 219.59 L561.9 219.54 L562.4 219.49 L562.9 219.44 L563.4 219.38 L563.9 219.31 L564.4 219.25 L564.9 219.18 L565.4 219.11 L565.9 219.03 L566.4 218.96 L566.9 218.88 L567.4 218.80 L567.9 218.71 L568.4 218.63 L568.9 218.54 L569.4 218.45 L569.9 218.36 L570.4 218.27 L570.9 218.18 L571.4 218.09 L571.9 217.99 L572.4 217.88 L572.9 217.76 L573.4 217.63 L573.9 217.49 L574.4 217.33 L574.9 217.15 L575.4 216.96 L575.9 216.68 L576.4 216.30 L576.9 215.84 L577.4 215.32 L577.9 214.76 L578.4 214.18 L578.9 213.61 L579.4 213.06 L579.9 212.55 L580.4 212.10 L580.9 211.67 L581.4 211.22 L581.9 210.76 L582.4 210.28 L582.9 209.82 L583.4 209.37 L583.9 208.95 L584.4 208.56 L584.9 208.23 L585.4 207.96 L585.9 207.75 L586.4 207.63 L586.9 207.60 L587.4 207.66 L587.9 207.78 L588.4 207.96 L588.9 208.20 L589.4 208.47 L589.9 208.77 L590.4 209.09 L590.9 209.42 L591.4 209.76 L591.9 210.08 L592.4 210.38 L592.9 210.65 L593.4 210.89 L593.9 211.13 L594.4 211.37 L594.9 211.62 L595.4 211.88 L595.9 212.13 L596.4 212.37 L596.9 212.61 L597.4 212.85 L597.9 213.07 L598.4 213.28 L598.9 213.47 L599.4 213.64 L599.9 213.79 L600.4 213.92 L600.9 214.02 L601.4 214.11 L601.9 214.20 L602.4 214.28 L602.9 214.37 L603.4 214.45 L603.9 214.52 L604.4 214.59 L604.9 214.66 L605.4 214.72 L605.9 214.77 L606.4 214.81 L606.9 214.85 L607.4 214.87 L607.9 214.89 L608.4 214.90 L608.9 214.89 L609.4 214.85 L609.9 214.79 L610.4 214.70 L610.9 214.59 L611.4 214.45 L611.9 214.31 L612.4 214.14 L612.9 213.97 L613.4 213.78 L613.9 213.59 L614.4 213.39 L614.9 213.18 L615.4 212.98 L615.9 212.78 L616.4 212.57 L616.9 212.30 L617.4 211.98 L617.9 211.62 L618.4 211.22 L618.9 210.81 L619.4 210.39 L619.9 209.96 L620.4 209.55 L620.9 209.16 L621.4 208.80 L621.9 208.49 L622.4 208.24 L622.9 208.04 L623.4 207.93 L623.9 207.90 L624.4 207.95 L624.9 208.07 L625.4 208.25 L625.9 208.47 L626.4 208.72 L626.9 209.01 L627.4 209.31 L627.9 209.61 L628.4 209.91 L628.9 210.20 L629.4 210.50 L629.9 210.84 L630.4 211.22 L630.9 211.62 L631.4 212.04 L631.9 212.48 L632.4 212.92 L632.9 213.36 L633.4 213.80 L633.9 214.22 L634.4 214.62 L634.9 214.99 L635.4 215.32 L635.9 215.61 L636.4 215.86 L636.9 216.06 L637.4 216.26 L637.9 216.44 L638.4 216.62 L638.9 216.79 L639.4 216.95 L639.9 217.11 L640.4 217.25 L640.9 217.40 L641.4 217.53 L641.9 217.66 L642.4 217.79 L642.9 217.91 L643.4 218.02 L643.9 218.14 L644.4 218.24 L644.9 218.35 L645.4 218.45 L645.9 218.55 L646.4 218.64 L646.9 218.74 L647.4 218.83 L647.9 218.92 L648.4 219.01 L648.9 219.10 L649.4 219.18 L649.9 219.26 L650.4 219.34 L650.9 219.41 L651.4 219.48 L651.9 219.54 L652.4 219.60 L652.9 219.65 L653.4 219.69 L653.9 219.73 L654.4 219.77 L654.9 219.80 L655.4 219.84 L655.9 219.88 L656.4 219.91 L656.9 219.94 L657.4 219.98 L657.9 220.01 L658.4 220.04 L658.9 220.07 L659.4 220.11 L659.9 220.14 L660.4 220.17 L660.9 220.20 L661.4 220.23 L661.9 220.26 L662.4 220.28 L662.9 220.31 L663.4 220.34 L663.9 220.37 L664.4 220.39 L664.9 220.42 L665.4 220.44 L665.9 220.47 L666.4 220.49 L666.9 220.52 L667.4 220.54 L667.9 220.57 L668.4 220.59 L668.9 220.61 L669.4 220.64 L669.9 220.66 L670.4 220.68 L670.9 220.70 L671.4 220.72 L671.9 220.74 L672.4 220.76 L672.9 220.78 L673.4 220.80 L673.9 220.82 L674.4 220.84 L674.9 220.86 L675.4 220.88 L675.9 220.90 L676.4 220.92 L676.9 220.94 L677.4 220.95 L677.9 220.97 L678.4 220.99 L678.9 221.01 L679.4 221.02 L679.9 221.04 L680.4 221.06 L680.9 221.07 L681.4 221.09 L681.9 221.11 L682.4 221.12 L682.9 221.14 L683.4 221.15 L683.9 221.17 L684.4 221.19 L684.9 221.20 L685.4 221.22 L685.9 221.23 L686.4 221.25 L686.9 221.26 L687.4 221.28 L687.9 221.29 L688.4 221.31 L688.9 221.32 L689.4 221.34 L689.9 221.35 L690.4 221.37 L690.9 221.38 L691.4 221.40 L691.9 221.41 L692.4 221.43 L692.9 221.44 L693.4 221.46 L693.9 221.47 L694.4 221.49 L694.9 221.51 L695.4 221.52 L695.9 221.54 L696.4 221.55 L696.9 221.57 L697.4 221.58 L697.9 221.60 L698.4 221.62 L698.9 221.63 L699.4 221.65 L699.9 221.67 L700.4 221.68 L700.9 221.70 L701.4 221.72 L701.9 221.74 L702.4 221.75 L702.9 221.77 L703.4 221.79 L703.9 221.81 L704.4 221.83 L704.9 221.85 L705.4 221.86 L705.9 221.88 L706.4 221.90 L706.9 221.92 L707.4 221.94 L707.9 221.96 L708.4 221.99 L708.9 222.01 L709.4 222.03 L709.9 222.05 L710.4 222.07 L710.9 222.09 L711.4 222.11 L711.9 222.13 L712.4 222.16 L712.9 222.18 L713.4 222.20 L713.9 222.22 L714.4 222.24 L714.9 222.27 L715.4 222.29 L715.9 222.31 L716.4 222.33 L716.9 222.36 L717.4 222.38 L717.9 222.40 L718.4 222.42 L718.9 222.44 L719.4 222.46 L719.9 222.49 L720.4 222.51 L720.9 222.53 L721.4 222.55 L721.9 222.57 L722.4 222.59 L722.9 222.61 L723.4 222.63 L723.9 222.65 L724.4 222.67 L724.9 222.69 L725.4 222.71 L725.9 222.73 L726.4 222.75 L726.9 222.77 L727.4 222.79 L727.9 222.80 L728.4 222.82 L728.9 222.84 L729.4 222.85 L729.9 222.87 L730.4 222.89 L730.9 222.90 L731.4 222.92 L731.9 222.93 L732.4 222.94 L732.9 222.96 L733.4 222.97 L733.9 222.98 L734.4 222.99 L734.9 223.01 L735.4 223.02 L735.9 223.03 L736.4 223.04 L736.9 223.05 L737.4 223.05 L737.9 223.06 L738.4 223.07 L738.9 223.07 L739.4 223.08 L739.9 223.09 L740.4 223.09 L740.9 223.09 L741.4 223.10 L741.9 223.10 L742.4 223.10 L742.9 223.10 L743.4 223.06 L743.9 222.92 L744.4 222.75 L744.9 222.59 L745.4 222.50 L745.9 222.55 L746.4 222.72 L746.9 222.94 L747.4 223.16 L747.9 223.29 L748.4 223.33 L748.9 223.37 L749.4 223.41 L749.9 223.45 L750.4 223.48 L750.9 223.52 L751.4 223.55 L751.9 223.58 L752.4 223.62 L752.9 223.65 L753.4 223.68 L753.9 223.71 L754.4 223.74 L754.9 223.77 L755.4 223.79 L755.9 223.82 L756.4 223.84 L756.9 223.87 L757.4 223.89 L757.9 223.92 L758.4 223.94 L758.9 223.96 L759.4 223.98 L759.9 224.00 L760.4 224.02 L760.9 224.04 L761.4 224.06 L761.9 224.07 L762.4 224.09 L762.9 224.10 L763.4 224.12 L763.9 224.13 L764.4 224.15 L764.9 224.16 L765.4 224.17 L765.9 224.18 L766.4 224.19 L766.9 224.20 L767.4 224.21 L767.9 224.22 L768.4 224.23 L768.9 224.24 L769.4 224.25 L769.9 224.26 L770.4 224.26 L770.9 224.27 L771.4 224.27 L771.9 224.28 L772.4 224.28 L772.9 224.29 L773.4 224.29 L773.9 224.29 L774.4 224.29 L774.9 224.30 L775.4 224.30 L775.9 224.30 L776.4 224.30 L776.9 224.30 L777.0 224.30" fill="none" stroke="#8e8c62" stroke-width="1.6" stroke-linejoin="round"/>
<path d="M396.9 256.90 L397.4 256.92 L397.9 256.94 L398.4 256.96 L398.9 256.98 L399.4 256.99 L399.9 257.01 L400.4 257.03 L400.9 257.05 L401.4 257.07 L401.9 257.08 L402.4 257.10 L402.9 257.12 L403.4 257.13 L403.9 257.15 L404.4 257.17 L404.9 257.19 L405.4 257.20 L405.9 257.22 L406.4 257.23 L406.9 257.25 L407.4 257.27 L407.9 257.28 L408.4 257.30 L408.9 257.31 L409.4 257.33 L409.9 257.34 L410.4 257.36 L410.9 257.37 L411.4 257.39 L411.9 257.40 L412.4 257.42 L412.9 257.43 L413.4 257.44 L413.9 257.46 L414.4 257.47 L414.9 257.49 L415.4 257.50 L415.9 257.51 L416.4 257.53 L416.9 257.54 L417.4 257.55 L417.9 257.56 L418.4 257.58 L418.9 257.59 L419.4 257.60 L419.9 257.61 L420.4 257.63 L420.9 257.64 L421.4 257.65 L421.9 257.66 L422.4 257.67 L422.9 257.68 L423.4 257.69 L423.9 257.71 L424.4 257.72 L424.9 257.73 L425.4 257.74 L425.9 257.75 L426.4 257.76 L426.9 257.77 L427.4 257.78 L427.9 257.79 L428.4 257.80 L428.9 257.81 L429.4 257.82 L429.9 257.83 L430.4 257.84 L430.9 257.85 L431.4 257.86 L431.9 257.87 L432.4 257.88 L432.9 257.88 L433.4 257.89 L433.9 257.90 L434.4 257.91 L434.9 257.92 L435.4 257.93 L435.9 257.94 L436.4 257.94 L436.9 257.95 L437.4 257.96 L437.9 257.97 L438.4 257.97 L438.9 257.98 L439.4 257.99 L439.9 258.00 L440.4 258.00 L440.9 258.01 L441.4 258.02 L441.9 258.03 L442.4 258.03 L442.9 258.04 L443.4 258.04 L443.9 258.05 L444.4 258.06 L444.9 258.06 L445.4 258.07 L445.9 258.08 L446.4 258.08 L446.9 258.09 L447.4 258.09 L447.9 258.10 L448.4 258.11 L448.9 258.11 L449.4 258.12 L449.9 258.12 L450.4 258.13 L450.9 258.13 L451.4 258.14 L451.9 258.14 L452.4 258.15 L452.9 258.15 L453.4 258.16 L453.9 258.16 L454.4 258.16 L454.9 258.17 L455.4 258.17 L455.9 258.18 L456.4 258.18 L456.9 258.19 L457.4 258.19 L457.9 258.19 L458.4 258.20 L458.9 258.20 L459.4 258.20 L459.9 258.21 L460.4 258.21 L460.9 258.21 L461.4 258.22 L461.9 258.22 L462.4 258.22 L462.9 258.23 L463.4 258.23 L463.9 258.23 L464.4 258.24 L464.9 258.24 L465.4 258.24 L465.9 258.24 L466.4 258.25 L466.9 258.25 L467.4 258.25 L467.9 258.25 L468.4 258.26 L468.9 258.26 L469.4 258.26 L469.9 258.26 L470.4 258.26 L470.9 258.27 L471.4 258.27 L471.9 258.27 L472.4 258.27 L472.9 258.27 L473.4 258.28 L473.9 258.28 L474.4 258.28 L474.9 258.28 L475.4 258.28 L475.9 258.28 L476.4 258.28 L476.9 258.29 L477.4 258.29 L477.9 258.29 L478.4 258.29 L478.9 258.29 L479.4 258.29 L479.9 258.29 L480.4 258.29 L480.9 258.29 L481.4 258.29 L481.9 258.29 L482.4 258.30 L482.9 258.30 L483.4 258.30 L483.9 258.30 L484.4 258.30 L484.9 258.30 L485.4 258.30 L485.9 258.30 L486.4 258.30 L486.9 258.30 L487.4 258.30 L487.9 258.30 L488.4 258.30 L488.9 258.30 L489.4 258.30 L489.9 258.30 L490.4 258.30 L490.9 258.30 L491.4 258.30 L491.9 258.30 L492.4 258.30 L492.9 258.30 L493.4 258.29 L493.9 258.29 L494.4 258.29 L494.9 258.29 L495.4 258.29 L495.9 258.29 L496.4 258.28 L496.9 258.28 L497.4 258.28 L497.9 258.27 L498.4 258.27 L498.9 258.27 L499.4 258.26 L499.9 258.26 L500.4 258.25 L500.9 258.25 L501.4 258.25 L501.9 258.24 L502.4 258.24 L502.9 258.23 L503.4 258.23 L503.9 258.22 L504.4 258.21 L504.9 258.21 L505.4 258.20 L505.9 258.20 L506.4 258.19 L506.9 258.18 L507.4 258.18 L507.9 258.17 L508.4 258.16 L508.9 258.15 L509.4 258.15 L509.9 258.14 L510.4 258.13 L510.9 258.12 L511.4 258.11 L511.9 258.11 L512.4 258.10 L512.9 258.09 L513.4 258.08 L513.9 258.07 L514.4 258.06 L514.9 258.05 L515.4 258.04 L515.9 258.03 L516.4 258.02 L516.9 258.01 L517.4 258.00 L517.9 257.99 L518.4 257.98 L518.9 257.97 L519.4 257.95 L519.9 257.94 L520.4 257.93 L520.9 257.92 L521.4 257.91 L521.9 257.90 L522.4 257.88 L522.9 257.87 L523.4 257.86 L523.9 257.84 L524.4 257.83 L524.9 257.82 L525.4 257.81 L525.9 257.79 L526.4 257.78 L526.9 257.76 L527.4 257.75 L527.9 257.74 L528.4 257.72 L528.9 257.71 L529.4 257.69 L529.9 257.68 L530.4 257.66 L530.9 257.65 L531.4 257.63 L531.9 257.62 L532.4 257.60 L532.9 257.58 L533.4 257.57 L533.9 257.55 L534.4 257.54 L534.9 257.52 L535.4 257.50 L535.9 257.49 L536.4 257.47 L536.9 257.45 L537.4 257.43 L537.9 257.42 L538.4 257.40 L538.9 257.38 L539.4 257.36 L539.9 257.35 L540.4 257.33 L540.9 257.31 L541.4 257.29 L541.9 257.27 L542.4 257.25 L542.9 257.23 L543.4 257.22 L543.9 257.20 L544.4 257.18 L544.9 257.16 L545.4 257.14 L545.9 257.12 L546.4 257.10 L546.9 257.08 L547.4 257.06 L547.9 257.04 L548.4 257.02 L548.9 257.00 L549.4 256.97 L549.9 256.95 L550.4 256.93 L550.9 256.91 L551.4 256.89 L551.9 256.87 L552.4 256.85 L552.9 256.82 L553.4 256.80 L553.9 256.78 L554.4 256.76 L554.9 256.74 L555.4 256.71 L555.9 256.69 L556.4 256.67 L556.9 256.65 L557.4 256.62 L557.9 256.60 L558.4 256.58 L558.9 256.55 L559.4 256.53 L559.9 256.50 L560.4 256.48 L560.9 256.45 L561.4 256.42 L561.9 256.39 L562.4 256.35 L562.9 256.31 L563.4 256.27 L563.9 256.22 L564.4 256.18 L564.9 256.13 L565.4 256.08 L565.9 256.02 L566.4 255.97 L566.9 255.91 L567.4 255.85 L567.9 255.79 L568.4 255.73 L568.9 255.67 L569.4 255.60 L569.9 255.54 L570.4 255.47 L570.9 255.41 L571.4 255.34 L571.9 255.27 L572.4 255.20 L572.9 255.12 L573.4 255.04 L573.9 254.96 L574.4 254.87 L574.9 254.77 L575.4 254.67 L575.9 254.55 L576.4 254.43 L576.9 254.30 L577.4 254.15 L577.9 254.00 L578.4 253.82 L578.9 253.59 L579.4 253.32 L579.9 253.01 L580.4 252.66 L580.9 252.27 L581.4 251.83 L581.9 251.36 L582.4 250.86 L582.9 250.31 L583.4 249.65 L583.9 248.75 L584.4 247.68 L584.9 246.52 L585.4 245.34 L585.9 244.22 L586.4 243.14 L586.9 241.89 L587.4 240.59 L587.9 239.42 L588.4 238.53 L588.9 238.11 L589.4 238.26 L589.9 238.82 L590.4 239.64 L590.9 240.57 L591.4 241.48 L591.9 242.59 L592.4 243.91 L592.9 245.23 L593.4 246.37 L593.9 247.12 L594.4 247.69 L594.9 248.22 L595.4 248.71 L595.9 249.15 L596.4 249.53 L596.9 249.86 L597.4 250.12 L597.9 250.30 L598.4 250.42 L598.9 250.50 L599.4 250.58 L599.9 250.66 L600.4 250.72 L600.9 250.79 L601.4 250.85 L601.9 250.90 L602.4 250.94 L602.9 250.99 L603.4 251.02 L603.9 251.05 L604.4 251.07 L604.9 251.09 L605.4 251.10 L605.9 251.10 L606.4 251.09 L606.9 251.06 L607.4 251.00 L607.9 250.93 L608.4 250.83 L608.9 250.72 L609.4 250.59 L609.9 250.44 L610.4 250.28 L610.9 250.10 L611.4 249.91 L611.9 249.70 L612.4 249.48 L612.9 249.25 L613.4 249.00 L613.9 248.71 L614.4 248.26 L614.9 247.65 L615.4 246.94 L615.9 246.17 L616.4 245.36 L616.9 244.56 L617.4 243.80 L617.9 242.98 L618.4 242.02 L618.9 240.99 L619.4 239.96 L619.9 239.01 L620.4 238.22 L620.9 237.66 L621.4 237.41 L621.9 237.56 L622.4 238.11 L622.9 238.94 L623.4 239.87 L623.9 240.78 L624.4 241.92 L624.9 243.27 L625.4 244.63 L625.9 245.78 L626.4 246.51 L626.9 247.04 L627.4 247.51 L627.9 247.94 L628.4 248.32 L628.9 248.66 L629.4 248.97 L629.9 249.24 L630.4 249.48 L630.9 249.70 L631.4 249.90 L631.9 250.08 L632.4 250.25 L632.9 250.41 L633.4 250.56 L633.9 250.70 L634.4 250.83 L634.9 250.96 L635.4 251.07 L635.9 251.19 L636.4 251.29 L636.9 251.40 L637.4 251.50 L637.9 251.60 L638.4 251.70 L638.9 251.79 L639.4 251.89 L639.9 251.99 L640.4 252.09 L640.9 252.20 L641.4 252.31 L641.9 252.42 L642.4 252.54 L642.9 252.66 L643.4 252.78 L643.9 252.91 L644.4 253.03 L644.9 253.16 L645.4 253.29 L645.9 253.41 L646.4 253.54 L646.9 253.67 L647.4 253.79 L647.9 253.92 L648.4 254.04 L648.9 254.16 L649.4 254.28 L649.9 254.39 L650.4 254.50 L650.9 254.60 L651.4 254.71 L651.9 254.80 L652.4 254.89 L652.9 254.98 L653.4 255.05 L653.9 255.13 L654.4 255.19 L654.9 255.25 L655.4 255.30 L655.9 255.33 L656.4 255.37 L656.9 255.39 L657.4 255.40 L657.9 255.40 L658.4 255.40 L658.9 255.40 L659.4 255.39 L659.9 255.39 L660.4 255.38 L660.9 255.38 L661.4 255.37 L661.9 255.36 L662.4 255.35 L662.9 255.34 L663.4 255.33 L663.9 255.32 L664.4 255.31 L664.9 255.30 L665.4 255.28 L665.9 255.27 L666.4 255.25 L666.9 255.23 L667.4 255.22 L667.9 255.20 L668.4 255.18 L668.9 255.16 L669.4 255.14 L669.9 255.12 L670.4 255.10 L670.9 255.08 L671.4 255.06 L671.9 255.04 L672.4 255.01 L672.9 254.99 L673.4 254.97 L673.9 254.94 L674.4 254.92 L674.9 254.89 L675.4 254.87 L675.9 254.84 L676.4 254.82 L676.9 254.79 L677.4 254.76 L677.9 254.74 L678.4 254.71 L678.9 254.68 L679.4 254.65 L679.9 254.60 L680.4 254.55 L680.9 254.49 L681.4 254.43 L681.9 254.36 L682.4 254.29 L682.9 254.22 L683.4 254.14 L683.9 254.06 L684.4 253.99 L684.9 253.91 L685.4 253.83 L685.9 253.76 L686.4 253.69 L686.9 253.62 L687.4 253.55 L687.9 253.50 L688.4 253.44 L688.9 253.40 L689.4 253.36 L689.9 253.33 L690.4 253.31 L690.9 253.30 L691.4 253.30 L691.9 253.30 L692.4 253.31 L692.9 253.31 L693.4 253.32 L693.9 253.33 L694.4 253.34 L694.9 253.35 L695.4 253.36 L695.9 253.38 L696.4 253.39 L696.9 253.41 L697.4 253.42 L697.9 253.44 L698.4 253.46 L698.9 253.48 L699.4 253.50 L699.9 253.52 L700.4 253.55 L700.9 253.59 L701.4 253.64 L701.9 253.69 L702.4 253.75 L702.9 253.82 L703.4 253.89 L703.9 253.97 L704.4 254.05 L704.9 254.14 L705.4 254.23 L705.9 254.32 L706.4 254.42 L706.9 254.51 L707.4 254.61 L707.9 254.71 L708.4 254.81 L708.9 254.91 L709.4 255.01 L709.9 255.11 L710.4 255.20 L710.9 255.30 L711.4 255.39 L711.9 255.47 L712.4 255.56 L712.9 255.63 L713.4 255.71 L713.9 255.77 L714.4 255.84 L714.9 255.90 L715.4 255.96 L715.9 256.02 L716.4 256.08 L716.9 256.14 L717.4 256.20 L717.9 256.27 L718.4 256.32 L718.9 256.38 L719.4 256.44 L719.9 256.50 L720.4 256.56 L720.9 256.62 L721.4 256.67 L721.9 256.73 L722.4 256.79 L722.9 256.84 L723.4 256.89 L723.9 256.95 L724.4 257.00 L724.9 257.05 L725.4 257.10 L725.9 257.15 L726.4 257.20 L726.9 257.25 L727.4 257.30 L727.9 257.35 L728.4 257.39 L728.9 257.44 L729.4 257.48 L729.9 257.53 L730.4 257.57 L730.9 257.61 L731.4 257.65 L731.9 257.69 L732.4 257.73 L732.9 257.76 L733.4 257.80 L733.9 257.83 L734.4 257.86 L734.9 257.89 L735.4 257.92 L735.9 257.95 L736.4 257.98 L736.9 258.02 L737.4 258.05 L737.9 258.08 L738.4 258.11 L738.9 258.14 L739.4 258.17 L739.9 258.20 L740.4 258.23 L740.9 258.26 L741.4 258.28 L741.9 258.31 L742.4 258.34 L742.9 258.37 L743.4 258.40 L743.9 258.43 L744.4 258.46 L744.9 258.49 L745.4 258.52 L745.9 258.55 L746.4 258.57 L746.9 258.60 L747.4 258.63 L747.9 258.66 L748.4 258.68 L748.9 258.71 L749.4 258.74 L749.9 258.76 L750.4 258.79 L750.9 258.82 L751.4 258.84 L751.9 258.87 L752.4 258.89 L752.9 258.92 L753.4 258.94 L753.9 258.97 L754.4 258.99 L754.9 259.02 L755.4 259.04 L755.9 259.06 L756.4 259.08 L756.9 259.11 L757.4 259.13 L757.9 259.15 L758.4 259.17 L758.9 259.19 L759.4 259.21 L759.9 259.23 L760.4 259.25 L760.9 259.27 L761.4 259.29 L761.9 259.31 L762.4 259.32 L762.9 259.34 L763.4 259.36 L763.9 259.37 L764.4 259.39 L764.9 259.41 L765.4 259.42 L765.9 259.43 L766.4 259.45 L766.9 259.46 L767.4 259.47 L767.9 259.49 L768.4 259.50 L768.9 259.51 L769.4 259.52 L769.9 259.53 L770.4 259.54 L770.9 259.55 L771.4 259.55 L771.9 259.56 L772.4 259.57 L772.9 259.58 L773.4 259.58 L773.9 259.59 L774.4 259.59 L774.9 259.59 L775.4 259.60 L775.9 259.60 L776.4 259.60 L776.9 259.60 L777.0 259.60" fill="none" stroke="#9e4676" stroke-width="1.6" stroke-linejoin="round"/>
</g>
<g filter="url(#tb)">
<line x1="3.0" y1="281.0" x2="374.5" y2="281.0" stroke="#939393" stroke-width="1"/><line x1="5.7" y1="281.0" x2="5.7" y2="282.5" stroke="#939393" stroke-width="1"/><line x1="12.3" y1="281.0" x2="12.3" y2="282.5" stroke="#939393" stroke-width="1"/><line x1="19.0" y1="281.0" x2="19.0" y2="282.5" stroke="#939393" stroke-width="1"/><line x1="25.6" y1="281.0" x2="25.6" y2="282.5" stroke="#939393" stroke-width="1"/><line x1="32.2" y1="281.0" x2="32.2" y2="282.5" stroke="#939393" stroke-width="1"/><line x1="38.9" y1="281.0" x2="38.9" y2="282.5" stroke="#939393" stroke-width="1"/><line x1="45.5" y1="281.0" x2="45.5" y2="282.5" stroke="#939393" stroke-width="1"/><line x1="52.2" y1="281.0" x2="52.2" y2="282.5" stroke="#939393" stroke-width="1"/><line x1="58.8" y1="281.0" x2="58.8" y2="282.5" stroke="#939393" stroke-width="1"/><line x1="65.4" y1="281.0" x2="65.4" y2="282.5" stroke="#939393" stroke-width="1"/><line x1="72.1" y1="281.0" x2="72.1" y2="282.5" stroke="#939393" stroke-width="1"/><line x1="78.7" y1="281.0" x2="78.7" y2="282.5" stroke="#939393" stroke-width="1"/><line x1="85.3" y1="281.0" x2="85.3" y2="282.5" stroke="#939393" stroke-width="1"/><line x1="92.0" y1="281.0" x2="92.0" y2="282.5" stroke="#939393" stroke-width="1"/><line x1="98.6" y1="281.0" x2="98.6" y2="282.5" stroke="#939393" stroke-width="1"/><line x1="105.3" y1="281.0" x2="105.3" y2="282.5" stroke="#939393" stroke-width="1"/><line x1="111.9" y1="281.0" x2="111.9" y2="282.5" stroke="#939393" stroke-width="1"/><line x1="118.5" y1="281.0" x2="118.5" y2="282.5" stroke="#939393" stroke-width="1"/><line x1="125.2" y1="281.0" x2="125.2" y2="282.5" stroke="#939393" stroke-width="1"/><line x1="131.8" y1="281.0" x2="131.8" y2="282.5" stroke="#939393" stroke-width="1"/><line x1="138.4" y1="281.0" x2="138.4" y2="282.5" stroke="#939393" stroke-width="1"/><line x1="145.1" y1="281.0" x2="145.1" y2="282.5" stroke="#939393" stroke-width="1"/><line x1="151.7" y1="281.0" x2="151.7" y2="282.5" stroke="#939393" stroke-width="1"/><line x1="158.3" y1="281.0" x2="158.3" y2="282.5" stroke="#939393" stroke-width="1"/><line x1="165.0" y1="281.0" x2="165.0" y2="282.5" stroke="#939393" stroke-width="1"/><line x1="171.6" y1="281.0" x2="171.6" y2="282.5" stroke="#939393" stroke-width="1"/><line x1="178.3" y1="281.0" x2="178.3" y2="282.5" stroke="#939393" stroke-width="1"/><line x1="184.9" y1="281.0" x2="184.9" y2="282.5" stroke="#939393" stroke-width="1"/><line x1="191.5" y1="281.0" x2="191.5" y2="282.5" stroke="#939393" stroke-width="1"/><line x1="198.2" y1="281.0" x2="198.2" y2="282.5" stroke="#939393" stroke-width="1"/><line x1="204.8" y1="281.0" x2="204.8" y2="282.5" stroke="#939393" stroke-width="1"/><line x1="211.4" y1="281.0" x2="211.4" y2="282.5" stroke="#939393" stroke-width="1"/><line x1="218.1" y1="281.0" x2="218.1" y2="282.5" stroke="#939393" stroke-width="1"/><line x1="224.7" y1="281.0" x2="224.7" y2="282.5" stroke="#939393" stroke-width="1"/><line x1="231.4" y1="281.0" x2="231.4" y2="282.5" stroke="#939393" stroke-width="1"/><line x1="238.0" y1="281.0" x2="238.0" y2="282.5" stroke="#939393" stroke-width="1"/><line x1="244.6" y1="281.0" x2="244.6" y2="282.5" stroke="#939393" stroke-width="1"/><line x1="251.3" y1="281.0" x2="251.3" y2="282.5" stroke="#939393" stroke-width="1"/><line x1="257.9" y1="281.0" x2="257.9" y2="282.5" stroke="#939393" stroke-width="1"/><line x1="264.5" y1="281.0" x2="264.5" y2="282.5" stroke="#939393" stroke-width="1"/><line x1="271.2" y1="281.0" x2="271.2" y2="282.5" stroke="#939393" stroke-width="1"/><line x1="277.8" y1="281.0" x2="277.8" y2="282.5" stroke="#939393" stroke-width="1"/><line x1="284.5" y1="281.0" x2="284.5" y2="282.5" stroke="#939393" stroke-width="1"/><line x1="291.1" y1="281.0" x2="291.1" y2="282.5" stroke="#939393" stroke-width="1"/><line x1="297.7" y1="281.0" x2="297.7" y2="282.5" stroke="#939393" stroke-width="1"/><line x1="304.4" y1="281.0" x2="304.4" y2="282.5" stroke="#939393" stroke-width="1"/><line x1="311.0" y1="281.0" x2="311.0" y2="282.5" stroke="#939393" stroke-width="1"/><line x1="317.6" y1="281.0" x2="317.6" y2="282.5" stroke="#939393" stroke-width="1"/><line x1="324.3" y1="281.0" x2="324.3" y2="282.5" stroke="#939393" stroke-width="1"/><line x1="330.9" y1="281.0" x2="330.9" y2="282.5" stroke="#939393" stroke-width="1"/><line x1="337.6" y1="281.0" x2="337.6" y2="282.5" stroke="#939393" stroke-width="1"/><line x1="344.2" y1="281.0" x2="344.2" y2="282.5" stroke="#939393" stroke-width="1"/><line x1="350.8" y1="281.0" x2="350.8" y2="282.5" stroke="#939393" stroke-width="1"/><line x1="357.5" y1="281.0" x2="357.5" y2="282.5" stroke="#939393" stroke-width="1"/><line x1="364.1" y1="281.0" x2="364.1" y2="282.5" stroke="#939393" stroke-width="1"/><line x1="370.7" y1="281.0" x2="370.7" y2="282.5" stroke="#939393" stroke-width="1"/>
<line x1="396.8" y1="279.6" x2="780.0" y2="279.6" stroke="#939393" stroke-width="1"/><line x1="402.2" y1="279.6" x2="402.2" y2="281.1" stroke="#939393" stroke-width="1"/><line x1="409.6" y1="279.6" x2="409.6" y2="281.1" stroke="#939393" stroke-width="1"/><line x1="416.9" y1="279.6" x2="416.9" y2="281.1" stroke="#939393" stroke-width="1"/><line x1="424.2" y1="279.6" x2="424.2" y2="281.1" stroke="#939393" stroke-width="1"/><line x1="431.5" y1="279.6" x2="431.5" y2="281.1" stroke="#939393" stroke-width="1"/><line x1="438.9" y1="279.6" x2="438.9" y2="281.1" stroke="#939393" stroke-width="1"/><line x1="446.2" y1="279.6" x2="446.2" y2="281.1" stroke="#939393" stroke-width="1"/><line x1="453.5" y1="279.6" x2="453.5" y2="281.1" stroke="#939393" stroke-width="1"/><line x1="460.8" y1="279.6" x2="460.8" y2="281.1" stroke="#939393" stroke-width="1"/><line x1="468.2" y1="279.6" x2="468.2" y2="281.1" stroke="#939393" stroke-width="1"/><line x1="475.5" y1="279.6" x2="475.5" y2="281.1" stroke="#939393" stroke-width="1"/><line x1="482.8" y1="279.6" x2="482.8" y2="281.1" stroke="#939393" stroke-width="1"/><line x1="490.1" y1="279.6" x2="490.1" y2="281.1" stroke="#939393" stroke-width="1"/><line x1="497.5" y1="279.6" x2="497.5" y2="281.1" stroke="#939393" stroke-width="1"/><line x1="504.8" y1="279.6" x2="504.8" y2="281.1" stroke="#939393" stroke-width="1"/><line x1="512.1" y1="279.6" x2="512.1" y2="281.1" stroke="#939393" stroke-width="1"/><line x1="519.4" y1="279.6" x2="519.4" y2="281.1" stroke="#939393" stroke-width="1"/><line x1="526.8" y1="279.6" x2="526.8" y2="281.1" stroke="#939393" stroke-width="1"/><line x1="534.1" y1="279.6" x2="534.1" y2="281.1" stroke="#939393" stroke-width="1"/><line x1="541.4" y1="279.6" x2="541.4" y2="281.1" stroke="#939393" stroke-width="1"/><line x1="548.8" y1="279.6" x2="548.8" y2="281.1" stroke="#939393" stroke-width="1"/><line x1="556.1" y1="279.6" x2="556.1" y2="281.1" stroke="#939393" stroke-width="1"/><line x1="563.4" y1="279.6" x2="563.4" y2="281.1" stroke="#939393" stroke-width="1"/><line x1="570.7" y1="279.6" x2="570.7" y2="281.1" stroke="#939393" stroke-width="1"/><line x1="578.1" y1="279.6" x2="578.1" y2="281.1" stroke="#939393" stroke-width="1"/><line x1="585.4" y1="279.6" x2="585.4" y2="281.1" stroke="#939393" stroke-width="1"/><line x1="592.7" y1="279.6" x2="592.7" y2="281.1" stroke="#939393" stroke-width="1"/><line x1="600.0" y1="279.6" x2="600.0" y2="281.1" stroke="#939393" stroke-width="1"/><line x1="607.4" y1="279.6" x2="607.4" y2="281.1" stroke="#939393" stroke-width="1"/><line x1="614.7" y1="279.6" x2="614.7" y2="281.1" stroke="#939393" stroke-width="1"/><line x1="622.0" y1="279.6" x2="622.0" y2="281.1" stroke="#939393" stroke-width="1"/><line x1="629.3" y1="279.6" x2="629.3" y2="281.1" stroke="#939393" stroke-width="1"/><line x1="636.7" y1="279.6" x2="636.7" y2="281.1" stroke="#939393" stroke-width="1"/><line x1="644.0" y1="279.6" x2="644.0" y2="281.1" stroke="#939393" stroke-width="1"/><line x1="651.3" y1="279.6" x2="651.3" y2="281.1" stroke="#939393" stroke-width="1"/><line x1="658.6" y1="279.6" x2="658.6" y2="281.1" stroke="#939393" stroke-width="1"/><line x1="666.0" y1="279.6" x2="666.0" y2="281.1" stroke="#939393" stroke-width="1"/><line x1="673.3" y1="279.6" x2="673.3" y2="281.1" stroke="#939393" stroke-width="1"/><line x1="680.6" y1="279.6" x2="680.6" y2="281.1" stroke="#939393" stroke-width="1"/><line x1="687.9" y1="279.6" x2="687.9" y2="281.1" stroke="#939393" stroke-width="1"/><line x1="695.3" y1="279.6" x2="695.3" y2="281.1" stroke="#939393" stroke-width="1"/><line x1="702.6" y1="279.6" x2="702.6" y2="281.1" stroke="#939393" stroke-width="1"/><line x1="709.9" y1="279.6" x2="709.9" y2="281.1" stroke="#939393" stroke-width="1"/><line x1="717.2" y1="279.6" x2="717.2" y2="281.1" stroke="#939393" stroke-width="1"/><line x1="724.6" y1="279.6" x2="724.6" y2="281.1" stroke="#939393" stroke-width="1"/><line x1="731.9" y1="279.6" x2="731.9" y2="281.1" stroke="#939393" stroke-width="1"/><line x1="739.2" y1="279.6" x2="739.2" y2="281.1" stroke="#939393" stroke-width="1"/><line x1="746.5" y1="279.6" x2="746.5" y2="281.1" stroke="#939393" stroke-width="1"/><line x1="753.9" y1="279.6" x2="753.9" y2="281.1" stroke="#939393" stroke-width="1"/><line x1="761.2" y1="279.6" x2="761.2" y2="281.1" stroke="#939393" stroke-width="1"/><line x1="768.5" y1="279.6" x2="768.5" y2="281.1" stroke="#939393" stroke-width="1"/><line x1="775.8" y1="279.6" x2="775.8" y2="281.1" stroke="#939393" stroke-width="1"/>
<text transform="translate(26.00 301.5) scale(0.97 1.10)" text-anchor="middle" font-family="Liberation Serif, serif" font-size="13.5" fill="#1c2a2a" stroke="#1c2a2a" stroke-width="0.25">8.92</text>
<text transform="translate(52.55 301.5) scale(0.97 1.10)" text-anchor="middle" font-family="Liberation Serif, serif" font-size="13.5" fill="#1c2a2a" stroke="#1c2a2a" stroke-width="0.25">8.88</text>
<text transform="translate(79.10 301.5) scale(0.97 1.10)" text-anchor="middle" font-family="Liberation Serif, serif" font-size="13.5" fill="#1c2a2a" stroke="#1c2a2a" stroke-width="0.25">8.84</text>
<text transform="translate(105.65 301.5) scale(0.97 1.10)" text-anchor="middle" font-family="Liberation Serif, serif" font-size="13.5" fill="#1c2a2a" stroke="#1c2a2a" stroke-width="0.25">8.80</text>
<text transform="translate(132.20 301.5) scale(0.97 1.10)" text-anchor="middle" font-family="Liberation Serif, serif" font-size="13.5" fill="#1c2a2a" stroke="#1c2a2a" stroke-width="0.25">8.76</text>
<text transform="translate(158.75 301.5) scale(0.97 1.10)" text-anchor="middle" font-family="Liberation Serif, serif" font-size="13.5" fill="#1c2a2a" stroke="#1c2a2a" stroke-width="0.25">8.72</text>
<text transform="translate(185.30 301.5) scale(0.97 1.10)" text-anchor="middle" font-family="Liberation Serif, serif" font-size="13.5" fill="#1c2a2a" stroke="#1c2a2a" stroke-width="0.25">8.68</text>
<text transform="translate(211.85 301.5) scale(0.97 1.10)" text-anchor="middle" font-family="Liberation Serif, serif" font-size="13.5" fill="#1c2a2a" stroke="#1c2a2a" stroke-width="0.25">8.64</text>
<text transform="translate(238.40 301.5) scale(0.97 1.10)" text-anchor="middle" font-family="Liberation Serif, serif" font-size="13.5" fill="#1c2a2a" stroke="#1c2a2a" stroke-width="0.25">8.60</text>
<text transform="translate(264.95 301.5) scale(0.97 1.10)" text-anchor="middle" font-family="Liberation Serif, serif" font-size="13.5" fill="#1c2a2a" stroke="#1c2a2a" stroke-width="0.25">8.56</text>
<text transform="translate(291.50 301.5) scale(0.97 1.10)" text-anchor="middle" font-family="Liberation Serif, serif" font-size="13.5" fill="#1c2a2a" stroke="#1c2a2a" stroke-width="0.25">8.52</text>
<text transform="translate(318.05 301.5) scale(0.97 1.10)" text-anchor="middle" font-family="Liberation Serif, serif" font-size="13.5" fill="#1c2a2a" stroke="#1c2a2a" stroke-width="0.25">8.48</text>
<text transform="translate(344.60 301.5) scale(0.97 1.10)" text-anchor="middle" font-family="Liberation Serif, serif" font-size="13.5" fill="#1c2a2a" stroke="#1c2a2a" stroke-width="0.25">8.44</text>
<text transform="translate(371.15 301.5) scale(0.97 1.10)" text-anchor="middle" font-family="Liberation Serif, serif" font-size="13.5" fill="#1c2a2a" stroke="#1c2a2a" stroke-width="0.25">8.40</text>
<text transform="translate(416.70 299.2) scale(0.97 1.10)" text-anchor="middle" font-family="Liberation Serif, serif" font-size="13.5" fill="#1c2a2a" stroke="#1c2a2a" stroke-width="0.25">8.41</text>
<text transform="translate(445.99 299.2) scale(0.97 1.10)" text-anchor="middle" font-family="Liberation Serif, serif" font-size="13.5" fill="#1c2a2a" stroke="#1c2a2a" stroke-width="0.25">8.39</text>
<text transform="translate(475.28 299.2) scale(0.97 1.10)" text-anchor="middle" font-family="Liberation Serif, serif" font-size="13.5" fill="#1c2a2a" stroke="#1c2a2a" stroke-width="0.25">8.37</text>
<text transform="translate(504.57 299.2) scale(0.97 1.10)" text-anchor="middle" font-family="Liberation Serif, serif" font-size="13.5" fill="#1c2a2a" stroke="#1c2a2a" stroke-width="0.25">8.35</text>
<text transform="translate(533.86 299.2) scale(0.97 1.10)" text-anchor="middle" font-family="Liberation Serif, serif" font-size="13.5" fill="#1c2a2a" stroke="#1c2a2a" stroke-width="0.25">8.33</text>
<text transform="translate(563.15 299.2) scale(0.97 1.10)" text-anchor="middle" font-family="Liberation Serif, serif" font-size="13.5" fill="#1c2a2a" stroke="#1c2a2a" stroke-width="0.25">8.31</text>
<text transform="translate(592.44 299.2) scale(0.97 1.10)" text-anchor="middle" font-family="Liberation Serif, serif" font-size="13.5" fill="#1c2a2a" stroke="#1c2a2a" stroke-width="0.25">8.29</text>
<text transform="translate(621.73 299.2) scale(0.97 1.10)" text-anchor="middle" font-family="Liberation Serif, serif" font-size="13.5" fill="#1c2a2a" stroke="#1c2a2a" stroke-width="0.25">8.27</text>
<text transform="translate(651.02 299.2) scale(0.97 1.10)" text-anchor="middle" font-family="Liberation Serif, serif" font-size="13.5" fill="#1c2a2a" stroke="#1c2a2a" stroke-width="0.25">8.25</text>
<text transform="translate(680.31 299.2) scale(0.97 1.10)" text-anchor="middle" font-family="Liberation Serif, serif" font-size="13.5" fill="#1c2a2a" stroke="#1c2a2a" stroke-width="0.25">8.23</text>
<text transform="translate(709.60 299.2) scale(0.97 1.10)" text-anchor="middle" font-family="Liberation Serif, serif" font-size="13.5" fill="#1c2a2a" stroke="#1c2a2a" stroke-width="0.25">8.21</text>
<text transform="translate(738.89 299.2) scale(0.97 1.10)" text-anchor="middle" font-family="Liberation Serif, serif" font-size="13.5" fill="#1c2a2a" stroke="#1c2a2a" stroke-width="0.25">8.19</text>
<text transform="translate(768.18 299.2) scale(0.97 1.10)" text-anchor="middle" font-family="Liberation Serif, serif" font-size="13.5" fill="#1c2a2a" stroke="#1c2a2a" stroke-width="0.25">8.17</text>
<text transform="translate(189.1 314.8) scale(1 1.2)" text-anchor="middle" font-family="Liberation Serif, serif" font-size="12.5" fill="#1c2a2a" stroke="#1c2a2a" stroke-width="0.2">1H ppm</text>
<text transform="translate(589.5 312.3) scale(1.05 1.2)" text-anchor="middle" font-family="Liberation Serif, serif" font-size="12.5" fill="#1c2a2a" stroke="#1c2a2a" stroke-width="0.2">1H ppm</text>
</g>
</svg></body></html>
